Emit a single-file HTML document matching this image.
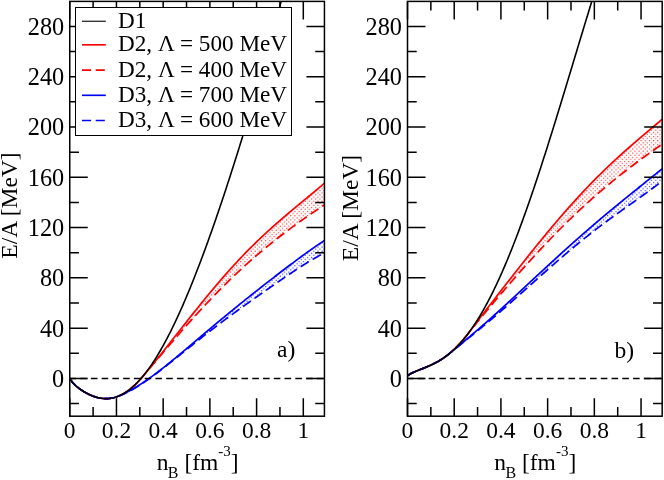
<!DOCTYPE html>
<html><head><meta charset="utf-8"><title>E/A vs nB</title>
<style>
html,body{margin:0;padding:0;background:#fff;}
body{width:664px;height:480px;overflow:hidden;font-family:"Liberation Serif",serif;}
svg{display:block;will-change:transform;}
text{font-family:"Liberation Serif",serif;fill:#000;}
.tk{font-size:24.3px;}
.tx{font-size:22.6px;}
.lb{font-size:23.5px;}
.lg{font-size:22.3px;}
</style></head><body>
<svg width="664" height="480" viewBox="0 0 664 480">
<defs><pattern id="dotr" width="4.17" height="4.17" patternUnits="userSpaceOnUse"><rect x="0.5" y="0.5" width="1.0" height="1.0" fill="#ff0000"/><rect x="2.585" y="2.585" width="1.0" height="1.0" fill="#ff0000"/></pattern><pattern id="dotb" width="4.17" height="4.17" patternUnits="userSpaceOnUse"><rect x="0.5" y="0.5" width="1.0" height="1.0" fill="#0000ff"/><rect x="2.585" y="2.585" width="1.0" height="1.0" fill="#0000ff"/></pattern></defs>
<rect width="664" height="480" fill="#fff"/>
<clipPath id="clip0"><rect x="69.75" y="1.40" width="254.69" height="414.80"/></clipPath>
<g clip-path="url(#clip0)" fill="none" stroke-width="1.7" stroke-linejoin="round">
<path d="M146.81,371.63 L147.49,370.80 L148.18,369.97 L148.86,369.14 L149.55,368.31 L150.23,367.48 L150.92,366.64 L151.60,365.80 L152.29,364.96 L152.98,364.12 L153.66,363.28 L154.35,362.44 L155.03,361.59 L155.72,360.74 L156.40,359.89 L157.09,359.04 L157.77,358.19 L158.46,357.34 L159.15,356.48 L159.83,355.63 L160.52,354.77 L161.20,353.91 L161.89,353.06 L162.57,352.20 L163.26,351.33 L163.95,350.47 L164.63,349.61 L165.32,348.75 L166.00,347.88 L166.69,347.02 L167.37,346.15 L168.06,345.28 L168.74,344.41 L169.43,343.55 L170.12,342.68 L170.80,341.81 L171.49,340.94 L172.17,340.07 L172.86,339.20 L173.54,338.33 L174.23,337.46 L174.92,336.58 L175.60,335.71 L176.29,334.84 L176.97,333.97 L177.66,333.10 L178.34,332.22 L179.03,331.35 L179.71,330.48 L180.40,329.61 L181.09,328.74 L181.77,327.87 L182.46,326.99 L183.14,326.12 L183.83,325.25 L184.51,324.38 L185.20,323.51 L185.89,322.64 L186.57,321.78 L187.26,320.91 L187.94,320.04 L188.63,319.17 L189.31,318.31 L190.00,317.44 L190.68,316.58 L191.37,315.71 L192.06,314.85 L192.74,313.99 L193.43,313.13 L194.11,312.27 L194.80,311.41 L195.48,310.55 L196.17,309.70 L196.86,308.84 L197.54,307.99 L198.23,307.13 L198.91,306.28 L199.60,305.43 L200.28,304.58 L200.97,303.73 L201.65,302.89 L202.34,302.04 L203.03,301.20 L203.71,300.36 L204.40,299.52 L205.08,298.68 L205.77,297.84 L206.45,297.01 L207.14,296.17 L207.83,295.34 L208.51,294.51 L209.20,293.68 L209.88,292.85 L210.57,292.03 L211.25,291.21 L211.94,290.39 L212.62,289.57 L213.31,288.75 L214.00,287.93 L214.68,287.12 L215.37,286.31 L216.05,285.50 L216.74,284.69 L217.42,283.89 L218.11,283.08 L218.80,282.28 L219.48,281.49 L220.17,280.69 L220.85,279.89 L221.54,279.10 L222.22,278.31 L222.91,277.53 L223.59,276.74 L224.28,275.96 L224.97,275.18 L225.65,274.40 L226.34,273.62 L227.02,272.85 L227.71,272.08 L228.39,271.31 L229.08,270.54 L229.77,269.78 L230.45,269.02 L231.14,268.26 L231.82,267.50 L232.51,266.75 L233.19,266.00 L233.88,265.25 L234.56,264.50 L235.25,263.76 L235.94,263.02 L236.62,262.28 L237.31,261.54 L237.99,260.81 L238.68,260.07 L239.36,259.35 L240.05,258.62 L240.74,257.90 L241.42,257.17 L242.11,256.46 L242.79,255.74 L243.48,255.03 L244.16,254.31 L244.85,253.61 L245.53,252.90 L246.22,252.20 L246.91,251.50 L247.59,250.80 L248.28,250.10 L248.96,249.41 L249.65,248.72 L250.33,248.03 L251.02,247.34 L251.71,246.66 L252.39,245.98 L253.08,245.30 L253.76,244.62 L254.45,243.95 L255.13,243.28 L255.82,242.61 L256.50,241.94 L257.19,241.28 L257.88,240.62 L258.56,239.96 L259.25,239.30 L259.93,238.65 L260.62,238.00 L261.30,237.35 L261.99,236.70 L262.68,236.05 L263.36,235.41 L264.05,234.77 L264.73,234.13 L265.42,233.50 L266.10,232.86 L266.79,232.23 L267.47,231.60 L268.16,230.97 L268.85,230.35 L269.53,229.72 L270.22,229.10 L270.90,228.48 L271.59,227.87 L272.27,227.25 L272.96,226.64 L273.65,226.02 L274.33,225.42 L275.02,224.81 L275.70,224.20 L276.39,223.60 L277.07,222.99 L277.76,222.39 L278.44,221.79 L279.13,221.20 L279.82,220.60 L280.50,220.01 L281.19,219.41 L281.87,218.82 L282.56,218.23 L283.24,217.64 L283.93,217.06 L284.62,216.47 L285.30,215.89 L285.99,215.30 L286.67,214.72 L287.36,214.14 L288.04,213.56 L288.73,212.98 L289.41,212.41 L290.10,211.83 L290.79,211.26 L291.47,210.68 L292.16,210.11 L292.84,209.54 L293.53,208.96 L294.21,208.39 L294.90,207.82 L295.59,207.25 L296.27,206.68 L296.96,206.12 L297.64,205.55 L298.33,204.98 L299.01,204.42 L299.70,203.85 L300.38,203.28 L301.07,202.72 L301.76,202.15 L302.44,201.59 L303.13,201.02 L303.81,200.46 L304.50,199.89 L305.18,199.33 L305.87,198.76 L306.56,198.20 L307.24,197.63 L307.93,197.07 L308.61,196.50 L309.30,195.93 L309.98,195.37 L310.67,194.80 L311.35,194.23 L312.04,193.66 L312.73,193.10 L313.41,192.53 L314.10,191.96 L314.78,191.38 L315.47,190.81 L316.15,190.24 L316.84,189.66 L317.53,189.09 L318.21,188.51 L318.90,187.94 L319.58,187.36 L320.27,186.78 L320.95,186.20 L321.64,185.61 L322.32,185.03 L323.01,184.44 L323.70,183.86 L324.38,183.27 L324.38,204.97 L323.70,205.41 L323.01,205.86 L322.32,206.30 L321.64,206.75 L320.95,207.20 L320.27,207.65 L319.58,208.11 L318.90,208.56 L318.21,209.01 L317.53,209.47 L316.84,209.93 L316.15,210.39 L315.47,210.84 L314.78,211.31 L314.10,211.77 L313.41,212.23 L312.73,212.70 L312.04,213.16 L311.35,213.63 L310.67,214.10 L309.98,214.57 L309.30,215.04 L308.61,215.51 L307.93,215.98 L307.24,216.46 L306.56,216.93 L305.87,217.41 L305.18,217.89 L304.50,218.37 L303.81,218.85 L303.13,219.33 L302.44,219.81 L301.76,220.30 L301.07,220.78 L300.38,221.27 L299.70,221.76 L299.01,222.25 L298.33,222.74 L297.64,223.23 L296.96,223.72 L296.27,224.22 L295.59,224.71 L294.90,225.21 L294.21,225.71 L293.53,226.21 L292.84,226.71 L292.16,227.22 L291.47,227.72 L290.79,228.23 L290.10,228.73 L289.41,229.24 L288.73,229.75 L288.04,230.26 L287.36,230.78 L286.67,231.29 L285.99,231.81 L285.30,232.33 L284.62,232.84 L283.93,233.36 L283.24,233.89 L282.56,234.41 L281.87,234.93 L281.19,235.46 L280.50,235.99 L279.82,236.52 L279.13,237.05 L278.44,237.58 L277.76,238.12 L277.07,238.65 L276.39,239.19 L275.70,239.73 L275.02,240.27 L274.33,240.81 L273.65,241.35 L272.96,241.90 L272.27,242.45 L271.59,243.00 L270.90,243.55 L270.22,244.10 L269.53,244.65 L268.85,245.21 L268.16,245.76 L267.47,246.32 L266.79,246.88 L266.10,247.45 L265.42,248.01 L264.73,248.58 L264.05,249.14 L263.36,249.71 L262.68,250.28 L261.99,250.86 L261.30,251.43 L260.62,252.01 L259.93,252.59 L259.25,253.17 L258.56,253.75 L257.88,254.33 L257.19,254.92 L256.50,255.51 L255.82,256.10 L255.13,256.69 L254.45,257.28 L253.76,257.88 L253.08,258.47 L252.39,259.07 L251.71,259.67 L251.02,260.27 L250.33,260.88 L249.65,261.49 L248.96,262.09 L248.28,262.70 L247.59,263.32 L246.91,263.93 L246.22,264.55 L245.53,265.17 L244.85,265.79 L244.16,266.41 L243.48,267.03 L242.79,267.66 L242.11,268.29 L241.42,268.92 L240.74,269.55 L240.05,270.18 L239.36,270.82 L238.68,271.45 L237.99,272.09 L237.31,272.74 L236.62,273.38 L235.94,274.03 L235.25,274.67 L234.56,275.32 L233.88,275.97 L233.19,276.63 L232.51,277.28 L231.82,277.94 L231.14,278.60 L230.45,279.26 L229.77,279.93 L229.08,280.59 L228.39,281.26 L227.71,281.93 L227.02,282.60 L226.34,283.27 L225.65,283.95 L224.97,284.63 L224.28,285.31 L223.59,285.99 L222.91,286.67 L222.22,287.36 L221.54,288.04 L220.85,288.73 L220.17,289.42 L219.48,290.12 L218.80,290.81 L218.11,291.51 L217.42,292.21 L216.74,292.91 L216.05,293.61 L215.37,294.31 L214.68,295.02 L214.00,295.73 L213.31,296.44 L212.62,297.15 L211.94,297.86 L211.25,298.58 L210.57,299.30 L209.88,300.02 L209.20,300.74 L208.51,301.46 L207.83,302.18 L207.14,302.91 L206.45,303.64 L205.77,304.37 L205.08,305.10 L204.40,305.83 L203.71,306.57 L203.03,307.30 L202.34,308.04 L201.65,308.78 L200.97,309.52 L200.28,310.26 L199.60,311.01 L198.91,311.76 L198.23,312.50 L197.54,313.25 L196.86,314.00 L196.17,314.76 L195.48,315.51 L194.80,316.27 L194.11,317.02 L193.43,317.78 L192.74,318.54 L192.06,319.30 L191.37,320.06 L190.68,320.83 L190.00,321.59 L189.31,322.36 L188.63,323.13 L187.94,323.90 L187.26,324.67 L186.57,325.44 L185.89,326.21 L185.20,326.99 L184.51,327.76 L183.83,328.54 L183.14,329.32 L182.46,330.10 L181.77,330.88 L181.09,331.66 L180.40,332.44 L179.71,333.23 L179.03,334.01 L178.34,334.80 L177.66,335.58 L176.97,336.37 L176.29,337.16 L175.60,337.95 L174.92,338.74 L174.23,339.53 L173.54,340.32 L172.86,341.11 L172.17,341.91 L171.49,342.70 L170.80,343.50 L170.12,344.30 L169.43,345.09 L168.74,345.89 L168.06,346.69 L167.37,347.49 L166.69,348.29 L166.00,349.09 L165.32,349.89 L164.63,350.69 L163.95,351.49 L163.26,352.30 L162.57,353.10 L161.89,353.90 L161.20,354.71 L160.52,355.51 L159.83,356.32 L159.15,357.12 L158.46,357.93 L157.77,358.74 L157.09,359.54 L156.40,360.35 L155.72,361.16 L155.03,361.96 L154.35,362.77 L153.66,363.58 L152.98,364.39 L152.29,365.20 L151.60,366.01 L150.92,366.82 L150.23,367.63 L149.55,368.44 L148.86,369.25 L148.18,370.06 L147.49,370.87 L146.81,371.68Z" fill="url(#dotr)" stroke="none"/>
<path d="M128.12,391.56 L128.88,391.16 L129.64,390.75 L130.40,390.34 L131.16,389.92 L131.91,389.50 L132.67,389.07 L133.43,388.63 L134.19,388.19 L134.94,387.74 L135.70,387.29 L136.46,386.83 L137.22,386.36 L137.98,385.90 L138.73,385.42 L139.49,384.94 L140.25,384.46 L141.01,383.97 L141.76,383.47 L142.52,382.97 L143.28,382.47 L144.04,381.96 L144.80,381.45 L145.55,380.93 L146.31,380.41 L147.07,379.88 L147.83,379.35 L148.58,378.82 L149.34,378.28 L150.10,377.74 L150.86,377.19 L151.62,376.64 L152.37,376.09 L153.13,375.54 L153.89,374.98 L154.65,374.41 L155.40,373.85 L156.16,373.28 L156.92,372.70 L157.68,372.13 L158.43,371.55 L159.19,370.97 L159.95,370.38 L160.71,369.79 L161.47,369.20 L162.22,368.61 L162.98,368.02 L163.74,367.42 L164.50,366.82 L165.25,366.22 L166.01,365.61 L166.77,365.01 L167.53,364.40 L168.29,363.79 L169.04,363.17 L169.80,362.56 L170.56,361.94 L171.32,361.33 L172.07,360.71 L172.83,360.09 L173.59,359.46 L174.35,358.84 L175.11,358.22 L175.86,357.59 L176.62,356.96 L177.38,356.33 L178.14,355.70 L178.89,355.07 L179.65,354.44 L180.41,353.81 L181.17,353.17 L181.93,352.54 L182.68,351.90 L183.44,351.26 L184.20,350.63 L184.96,349.99 L185.71,349.35 L186.47,348.71 L187.23,348.07 L187.99,347.43 L188.74,346.79 L189.50,346.15 L190.26,345.51 L191.02,344.87 L191.78,344.23 L192.53,343.59 L193.29,342.94 L194.05,342.30 L194.81,341.66 L195.56,341.02 L196.32,340.37 L197.08,339.73 L197.84,339.09 L198.60,338.45 L199.35,337.81 L200.11,337.16 L200.87,336.52 L201.63,335.88 L202.38,335.24 L203.14,334.60 L203.90,333.96 L204.66,333.32 L205.42,332.68 L206.17,332.04 L206.93,331.40 L207.69,330.76 L208.45,330.12 L209.20,329.48 L209.96,328.85 L210.72,328.21 L211.48,327.57 L212.24,326.94 L212.99,326.30 L213.75,325.67 L214.51,325.03 L215.27,324.40 L216.02,323.76 L216.78,323.13 L217.54,322.50 L218.30,321.87 L219.05,321.24 L219.81,320.61 L220.57,319.98 L221.33,319.35 L222.09,318.72 L222.84,318.09 L223.60,317.47 L224.36,316.84 L225.12,316.21 L225.87,315.59 L226.63,314.96 L227.39,314.34 L228.15,313.72 L228.91,313.10 L229.66,312.47 L230.42,311.85 L231.18,311.23 L231.94,310.61 L232.69,310.00 L233.45,309.38 L234.21,308.76 L234.97,308.14 L235.73,307.53 L236.48,306.91 L237.24,306.30 L238.00,305.69 L238.76,305.07 L239.51,304.46 L240.27,303.85 L241.03,303.24 L241.79,302.63 L242.54,302.02 L243.30,301.41 L244.06,300.80 L244.82,300.19 L245.58,299.59 L246.33,298.98 L247.09,298.37 L247.85,297.77 L248.61,297.16 L249.36,296.56 L250.12,295.96 L250.88,295.35 L251.64,294.75 L252.40,294.15 L253.15,293.55 L253.91,292.95 L254.67,292.35 L255.43,291.75 L256.18,291.15 L256.94,290.56 L257.70,289.96 L258.46,289.36 L259.22,288.77 L259.97,288.17 L260.73,287.57 L261.49,286.98 L262.25,286.39 L263.00,285.79 L263.76,285.20 L264.52,284.61 L265.28,284.02 L266.04,283.42 L266.79,282.83 L267.55,282.24 L268.31,281.65 L269.07,281.06 L269.82,280.48 L270.58,279.89 L271.34,279.30 L272.10,278.71 L272.85,278.13 L273.61,277.54 L274.37,276.96 L275.13,276.37 L275.89,275.79 L276.64,275.20 L277.40,274.62 L278.16,274.04 L278.92,273.45 L279.67,272.87 L280.43,272.29 L281.19,271.71 L281.95,271.13 L282.71,270.55 L283.46,269.98 L284.22,269.40 L284.98,268.82 L285.74,268.25 L286.49,267.67 L287.25,267.10 L288.01,266.52 L288.77,265.95 L289.53,265.38 L290.28,264.80 L291.04,264.23 L291.80,263.66 L292.56,263.10 L293.31,262.53 L294.07,261.96 L294.83,261.39 L295.59,260.83 L296.35,260.27 L297.10,259.70 L297.86,259.14 L298.62,258.58 L299.38,258.02 L300.13,257.46 L300.89,256.91 L301.65,256.35 L302.41,255.80 L303.16,255.24 L303.92,254.69 L304.68,254.14 L305.44,253.59 L306.20,253.05 L306.95,252.50 L307.71,251.96 L308.47,251.42 L309.23,250.88 L309.98,250.34 L310.74,249.80 L311.50,249.27 L312.26,248.74 L313.02,248.21 L313.77,247.68 L314.53,247.16 L315.29,246.63 L316.05,246.11 L316.80,245.60 L317.56,245.08 L318.32,244.57 L319.08,244.06 L319.84,243.55 L320.59,243.05 L321.35,242.55 L322.11,242.05 L322.87,241.55 L323.62,241.06 L324.38,240.57 L324.38,253.09 L323.62,253.46 L322.87,253.84 L322.11,254.22 L321.35,254.61 L320.59,255.00 L319.84,255.40 L319.08,255.80 L318.32,256.21 L317.56,256.63 L316.80,257.04 L316.05,257.46 L315.29,257.89 L314.53,258.32 L313.77,258.76 L313.02,259.19 L312.26,259.64 L311.50,260.08 L310.74,260.53 L309.98,260.99 L309.23,261.44 L308.47,261.90 L307.71,262.36 L306.95,262.83 L306.20,263.30 L305.44,263.77 L304.68,264.24 L303.92,264.72 L303.16,265.19 L302.41,265.68 L301.65,266.16 L300.89,266.64 L300.13,267.13 L299.38,267.62 L298.62,268.11 L297.86,268.60 L297.10,269.10 L296.35,269.60 L295.59,270.09 L294.83,270.59 L294.07,271.10 L293.31,271.60 L292.56,272.10 L291.80,272.61 L291.04,273.12 L290.28,273.62 L289.53,274.13 L288.77,274.64 L288.01,275.15 L287.25,275.67 L286.49,276.18 L285.74,276.69 L284.98,277.21 L284.22,277.72 L283.46,278.24 L282.71,278.76 L281.95,279.28 L281.19,279.80 L280.43,280.32 L279.67,280.84 L278.92,281.36 L278.16,281.88 L277.40,282.40 L276.64,282.92 L275.89,283.45 L275.13,283.97 L274.37,284.50 L273.61,285.02 L272.85,285.55 L272.10,286.07 L271.34,286.60 L270.58,287.13 L269.82,287.65 L269.07,288.18 L268.31,288.71 L267.55,289.24 L266.79,289.76 L266.04,290.29 L265.28,290.82 L264.52,291.35 L263.76,291.88 L263.00,292.41 L262.25,292.95 L261.49,293.48 L260.73,294.01 L259.97,294.54 L259.22,295.07 L258.46,295.61 L257.70,296.14 L256.94,296.68 L256.18,297.21 L255.43,297.74 L254.67,298.28 L253.91,298.82 L253.15,299.35 L252.40,299.89 L251.64,300.43 L250.88,300.96 L250.12,301.50 L249.36,302.04 L248.61,302.58 L247.85,303.12 L247.09,303.66 L246.33,304.20 L245.58,304.74 L244.82,305.29 L244.06,305.83 L243.30,306.37 L242.54,306.92 L241.79,307.46 L241.03,308.01 L240.27,308.55 L239.51,309.10 L238.76,309.65 L238.00,310.20 L237.24,310.75 L236.48,311.30 L235.73,311.85 L234.97,312.40 L234.21,312.95 L233.45,313.50 L232.69,314.06 L231.94,314.61 L231.18,315.17 L230.42,315.72 L229.66,316.28 L228.91,316.84 L228.15,317.40 L227.39,317.96 L226.63,318.52 L225.87,319.08 L225.12,319.65 L224.36,320.21 L223.60,320.78 L222.84,321.34 L222.09,321.91 L221.33,322.48 L220.57,323.05 L219.81,323.62 L219.05,324.19 L218.30,324.76 L217.54,325.33 L216.78,325.91 L216.02,326.48 L215.27,327.06 L214.51,327.64 L213.75,328.22 L212.99,328.79 L212.24,329.38 L211.48,329.96 L210.72,330.54 L209.96,331.12 L209.20,331.71 L208.45,332.29 L207.69,332.88 L206.93,333.47 L206.17,334.06 L205.42,334.65 L204.66,335.24 L203.90,335.83 L203.14,336.42 L202.38,337.02 L201.63,337.61 L200.87,338.21 L200.11,338.80 L199.35,339.40 L198.60,340.00 L197.84,340.60 L197.08,341.20 L196.32,341.80 L195.56,342.40 L194.81,343.00 L194.05,343.61 L193.29,344.21 L192.53,344.81 L191.78,345.42 L191.02,346.02 L190.26,346.63 L189.50,347.24 L188.74,347.84 L187.99,348.45 L187.23,349.06 L186.47,349.67 L185.71,350.27 L184.96,350.88 L184.20,351.49 L183.44,352.10 L182.68,352.71 L181.93,353.32 L181.17,353.93 L180.41,354.54 L179.65,355.15 L178.89,355.76 L178.14,356.37 L177.38,356.97 L176.62,357.58 L175.86,358.19 L175.11,358.80 L174.35,359.41 L173.59,360.01 L172.83,360.62 L172.07,361.22 L171.32,361.83 L170.56,362.43 L169.80,363.03 L169.04,363.63 L168.29,364.23 L167.53,364.83 L166.77,365.43 L166.01,366.03 L165.25,366.62 L164.50,367.22 L163.74,367.81 L162.98,368.40 L162.22,368.99 L161.47,369.57 L160.71,370.16 L159.95,370.74 L159.19,371.32 L158.43,371.90 L157.68,372.47 L156.92,373.05 L156.16,373.62 L155.40,374.19 L154.65,374.75 L153.89,375.31 L153.13,375.87 L152.37,376.43 L151.62,376.98 L150.86,377.53 L150.10,378.08 L149.34,378.62 L148.58,379.16 L147.83,379.69 L147.07,380.22 L146.31,380.75 L145.55,381.27 L144.80,381.79 L144.04,382.31 L143.28,382.81 L142.52,383.32 L141.76,383.82 L141.01,384.31 L140.25,384.80 L139.49,385.29 L138.73,385.77 L137.98,386.24 L137.22,386.71 L136.46,387.17 L135.70,387.63 L134.94,388.08 L134.19,388.53 L133.43,388.97 L132.67,389.40 L131.91,389.82 L131.16,390.24 L130.40,390.65 L129.64,391.06 L128.88,391.46 L128.12,391.85Z" fill="url(#dotb)" stroke="none"/>
<path d="M69.75,378.10 L70.73,379.96 L71.72,381.38 L72.70,382.59 L73.68,383.68 L74.67,384.67 L75.65,385.58 L76.63,386.44 L77.62,387.25 L78.60,388.03 L79.58,388.76 L80.56,389.47 L81.55,390.14 L82.53,390.79 L83.51,391.41 L84.50,392.00 L85.48,392.57 L86.46,393.12 L87.45,393.64 L88.43,394.14 L89.41,394.61 L90.40,395.06 L91.38,395.48 L92.36,395.88 L93.35,396.25 L94.33,396.59 L95.31,396.91 L96.29,397.21 L97.28,397.47 L98.26,397.71 L99.24,397.92 L100.23,398.11 L101.21,398.26 L102.19,398.39 L103.18,398.49 L104.16,398.56 L105.14,398.60 L106.13,398.61 L107.11,398.59 L108.09,398.53 L109.08,398.45 L110.06,398.34 L111.04,398.20 L112.02,398.02 L113.01,397.82 L113.99,397.58 L114.97,397.31 L115.96,397.01 L116.94,396.68 L117.92,396.31 L118.91,395.91 L119.89,395.49 L120.87,395.02 L121.86,394.53 L122.84,394.01 L123.82,393.45 L124.81,392.86 L125.79,392.24 L126.77,391.58 L127.75,390.89 L128.74,390.17 L129.72,389.42 L130.70,388.64 L131.69,387.82 L132.67,386.98 L133.65,386.10 L134.64,385.19 L135.62,384.24 L136.60,383.27 L137.59,382.27 L138.57,381.23 L139.55,380.16 L140.54,379.06 L141.52,377.93 L142.50,376.77 L143.49,375.61 L144.47,374.43 L145.45,373.26 L146.43,372.08 L147.42,370.89 L148.40,369.70 L149.38,368.51 L150.37,367.31 L151.35,366.11 L152.33,364.91 L153.32,363.70 L154.30,362.49 L155.28,361.28 L156.27,360.06 L157.25,358.85 L158.23,357.62 L159.22,356.40 L160.20,355.17 L161.18,353.94 L162.16,352.71 L163.15,351.48 L164.13,350.24 L165.11,349.00 L166.10,347.76 L167.08,346.52 L168.06,345.28 L169.05,344.03 L170.03,342.79 L171.01,341.54 L172.00,340.29 L172.98,339.04 L173.96,337.80 L174.95,336.55 L175.93,335.30 L176.91,334.05 L177.89,332.80 L178.88,331.54 L179.86,330.29 L180.84,329.04 L181.83,327.80 L182.81,326.55 L183.79,325.30 L184.78,324.05 L185.76,322.80 L186.74,321.56 L187.73,320.31 L188.71,319.07 L189.69,317.83 L190.68,316.59 L191.66,315.35 L192.64,314.12 L193.62,312.88 L194.61,311.65 L195.59,310.42 L196.57,309.19 L197.56,307.97 L198.54,306.74 L199.52,305.52 L200.51,304.31 L201.49,303.09 L202.47,301.88 L203.46,300.67 L204.44,299.47 L205.42,298.26 L206.41,297.06 L207.39,295.87 L208.37,294.68 L209.36,293.49 L210.34,292.31 L211.32,291.13 L212.30,289.95 L213.29,288.78 L214.27,287.61 L215.25,286.44 L216.24,285.28 L217.22,284.13 L218.20,282.98 L219.19,281.83 L220.17,280.69 L221.15,279.55 L222.14,278.41 L223.12,277.29 L224.10,276.16 L225.09,275.04 L226.07,273.93 L227.05,272.82 L228.03,271.71 L229.02,270.61 L230.00,269.52 L230.98,268.43 L231.97,267.34 L232.95,266.26 L233.93,265.19 L234.92,264.12 L235.90,263.06 L236.88,262.00 L237.87,260.94 L238.85,259.89 L239.83,258.85 L240.82,257.81 L241.80,256.78 L242.78,255.75 L243.76,254.73 L244.75,253.71 L245.73,252.70 L246.71,251.69 L247.70,250.69 L248.68,249.69 L249.66,248.70 L250.65,247.72 L251.63,246.73 L252.61,245.76 L253.60,244.79 L254.58,243.82 L255.56,242.86 L256.55,241.90 L257.53,240.95 L258.51,240.01 L259.49,239.07 L260.48,238.13 L261.46,237.20 L262.44,236.27 L263.43,235.35 L264.41,234.43 L265.39,233.52 L266.38,232.61 L267.36,231.71 L268.34,230.81 L269.33,229.91 L270.31,229.02 L271.29,228.13 L272.28,227.25 L273.26,226.37 L274.24,225.49 L275.23,224.62 L276.21,223.75 L277.19,222.89 L278.17,222.03 L279.16,221.17 L280.14,220.32 L281.12,219.47 L282.11,218.62 L283.09,217.78 L284.07,216.93 L285.06,216.09 L286.04,215.26 L287.02,214.42 L288.01,213.59 L288.99,212.76 L289.97,211.94 L290.96,211.11 L291.94,210.29 L292.92,209.47 L293.90,208.65 L294.89,207.83 L295.87,207.02 L296.85,206.20 L297.84,205.39 L298.82,204.58 L299.80,203.76 L300.79,202.95 L301.77,202.14 L302.75,201.33 L303.74,200.52 L304.72,199.71 L305.70,198.90 L306.69,198.09 L307.67,197.28 L308.65,196.47 L309.63,195.66 L310.62,194.84 L311.60,194.03 L312.58,193.21 L313.57,192.40 L314.55,191.58 L315.53,190.76 L316.52,189.94 L317.50,189.11 L318.48,188.28 L319.47,187.46 L320.45,186.62 L321.43,185.79 L322.42,184.95 L323.40,184.11 L324.38,183.27" stroke="#ff0000"/>
<path d="M69.75,378.10 L70.73,379.96 L71.72,381.38 L72.70,382.59 L73.68,383.68 L74.67,384.67 L75.65,385.58 L76.63,386.44 L77.62,387.25 L78.60,388.03 L79.58,388.76 L80.56,389.47 L81.55,390.14 L82.53,390.79 L83.51,391.41 L84.50,392.00 L85.48,392.57 L86.46,393.12 L87.45,393.64 L88.43,394.14 L89.41,394.61 L90.40,395.06 L91.38,395.48 L92.36,395.88 L93.35,396.25 L94.33,396.59 L95.31,396.91 L96.29,397.21 L97.28,397.47 L98.26,397.71 L99.24,397.92 L100.23,398.11 L101.21,398.26 L102.19,398.39 L103.18,398.49 L104.16,398.56 L105.14,398.60 L106.13,398.61 L107.11,398.59 L108.09,398.53 L109.08,398.45 L110.06,398.34 L111.04,398.20 L112.02,398.02 L113.01,397.82 L113.99,397.58 L114.97,397.31 L115.96,397.01 L116.94,396.68 L117.92,396.31 L118.91,395.91 L119.89,395.49 L120.87,395.02 L121.86,394.53 L122.84,394.01 L123.82,393.45 L124.81,392.86 L125.79,392.24 L126.77,391.58 L127.75,390.89 L128.74,390.17 L129.72,389.42 L130.70,388.64 L131.69,387.82 L132.67,386.98 L133.65,386.10 L134.64,385.19 L135.62,384.24 L136.60,383.27 L137.59,382.27 L138.57,381.23 L139.55,380.16 L140.54,379.06 L141.52,377.93 L142.50,376.77 L143.49,375.61 L144.47,374.45 L145.45,373.28 L146.43,372.12 L147.42,370.96 L148.40,369.79 L149.38,368.63 L150.37,367.47 L151.35,366.31 L152.33,365.15 L153.32,363.99 L154.30,362.83 L155.28,361.67 L156.27,360.51 L157.25,359.35 L158.23,358.20 L159.22,357.04 L160.20,355.89 L161.18,354.73 L162.16,353.58 L163.15,352.43 L164.13,351.28 L165.11,350.13 L166.10,348.98 L167.08,347.83 L168.06,346.68 L169.05,345.54 L170.03,344.40 L171.01,343.25 L172.00,342.11 L172.98,340.98 L173.96,339.84 L174.95,338.70 L175.93,337.57 L176.91,336.44 L177.89,335.31 L178.88,334.18 L179.86,333.06 L180.84,331.94 L181.83,330.81 L182.81,329.70 L183.79,328.58 L184.78,327.47 L185.76,326.36 L186.74,325.25 L187.73,324.14 L188.71,323.04 L189.69,321.94 L190.68,320.84 L191.66,319.74 L192.64,318.65 L193.62,317.56 L194.61,316.48 L195.59,315.39 L196.57,314.31 L197.56,313.23 L198.54,312.16 L199.52,311.09 L200.51,310.02 L201.49,308.96 L202.47,307.90 L203.46,306.84 L204.44,305.79 L205.42,304.74 L206.41,303.69 L207.39,302.65 L208.37,301.61 L209.36,300.57 L210.34,299.54 L211.32,298.51 L212.30,297.48 L213.29,296.46 L214.27,295.45 L215.25,294.43 L216.24,293.42 L217.22,292.42 L218.20,291.41 L219.19,290.42 L220.17,289.42 L221.15,288.43 L222.14,287.44 L223.12,286.46 L224.10,285.48 L225.09,284.51 L226.07,283.54 L227.05,282.57 L228.03,281.61 L229.02,280.65 L230.00,279.70 L230.98,278.75 L231.97,277.80 L232.95,276.86 L233.93,275.92 L234.92,274.99 L235.90,274.06 L236.88,273.13 L237.87,272.21 L238.85,271.30 L239.83,270.38 L240.82,269.47 L241.80,268.57 L242.78,267.67 L243.76,266.77 L244.75,265.88 L245.73,264.99 L246.71,264.10 L247.70,263.22 L248.68,262.35 L249.66,261.47 L250.65,260.60 L251.63,259.74 L252.61,258.88 L253.60,258.02 L254.58,257.17 L255.56,256.32 L256.55,255.47 L257.53,254.63 L258.51,253.79 L259.49,252.96 L260.48,252.13 L261.46,251.30 L262.44,250.48 L263.43,249.66 L264.41,248.84 L265.39,248.03 L266.38,247.22 L267.36,246.42 L268.34,245.62 L269.33,244.82 L270.31,244.02 L271.29,243.23 L272.28,242.45 L273.26,241.66 L274.24,240.88 L275.23,240.10 L276.21,239.33 L277.19,238.56 L278.17,237.79 L279.16,237.03 L280.14,236.27 L281.12,235.51 L282.11,234.75 L283.09,234.00 L284.07,233.26 L285.06,232.51 L286.04,231.77 L287.02,231.03 L288.01,230.29 L288.99,229.56 L289.97,228.83 L290.96,228.10 L291.94,227.38 L292.92,226.66 L293.90,225.94 L294.89,225.22 L295.87,224.51 L296.85,223.80 L297.84,223.09 L298.82,222.39 L299.80,221.68 L300.79,220.98 L301.77,220.29 L302.75,219.59 L303.74,218.90 L304.72,218.21 L305.70,217.53 L306.69,216.84 L307.67,216.16 L308.65,215.48 L309.63,214.81 L310.62,214.13 L311.60,213.46 L312.58,212.79 L313.57,212.13 L314.55,211.46 L315.53,210.80 L316.52,210.14 L317.50,209.49 L318.48,208.83 L319.47,208.18 L320.45,207.53 L321.43,206.89 L322.42,206.24 L323.40,205.60 L324.38,204.97" stroke="#ff0000" stroke-dasharray="9.5 4.5"/>
<path d="M69.75,378.10 L70.73,379.96 L71.72,381.38 L72.70,382.59 L73.68,383.68 L74.67,384.67 L75.65,385.58 L76.63,386.44 L77.62,387.25 L78.60,388.03 L79.58,388.76 L80.56,389.47 L81.55,390.14 L82.53,390.79 L83.51,391.41 L84.50,392.00 L85.48,392.57 L86.46,393.12 L87.45,393.64 L88.43,394.14 L89.41,394.61 L90.40,395.06 L91.38,395.48 L92.36,395.88 L93.35,396.25 L94.33,396.59 L95.31,396.91 L96.29,397.21 L97.28,397.47 L98.26,397.71 L99.24,397.92 L100.23,398.11 L101.21,398.26 L102.19,398.39 L103.18,398.49 L104.16,398.56 L105.14,398.60 L106.13,398.61 L107.11,398.59 L108.09,398.53 L109.08,398.45 L110.06,398.34 L111.04,398.20 L112.02,398.02 L113.01,397.82 L113.99,397.58 L114.97,397.31 L115.96,397.01 L116.94,396.68 L117.92,396.31 L118.91,395.91 L119.89,395.50 L120.87,395.07 L121.86,394.63 L122.84,394.18 L123.82,393.72 L124.81,393.24 L125.79,392.76 L126.77,392.26 L127.75,391.76 L128.74,391.24 L129.72,390.71 L130.70,390.17 L131.69,389.63 L132.67,389.07 L133.65,388.50 L134.64,387.92 L135.62,387.34 L136.60,386.74 L137.59,386.14 L138.57,385.52 L139.55,384.90 L140.54,384.27 L141.52,383.63 L142.50,382.99 L143.49,382.33 L144.47,381.67 L145.45,381.00 L146.43,380.32 L147.42,379.64 L148.40,378.95 L149.38,378.25 L150.37,377.55 L151.35,376.84 L152.33,376.12 L153.32,375.40 L154.30,374.67 L155.28,373.94 L156.27,373.20 L157.25,372.45 L158.23,371.70 L159.22,370.95 L160.20,370.19 L161.18,369.43 L162.16,368.66 L163.15,367.89 L164.13,367.11 L165.11,366.33 L166.10,365.54 L167.08,364.76 L168.06,363.97 L169.05,363.17 L170.03,362.38 L171.01,361.57 L172.00,360.77 L172.98,359.97 L173.96,359.16 L174.95,358.35 L175.93,357.53 L176.91,356.72 L177.89,355.90 L178.88,355.08 L179.86,354.26 L180.84,353.44 L181.83,352.62 L182.81,351.79 L183.79,350.97 L184.78,350.14 L185.76,349.31 L186.74,348.48 L187.73,347.65 L188.71,346.82 L189.69,345.99 L190.68,345.16 L191.66,344.33 L192.64,343.49 L193.62,342.66 L194.61,341.83 L195.59,340.99 L196.57,340.16 L197.56,339.33 L198.54,338.49 L199.52,337.66 L200.51,336.83 L201.49,336.00 L202.47,335.16 L203.46,334.33 L204.44,333.50 L205.42,332.67 L206.41,331.84 L207.39,331.01 L208.37,330.18 L209.36,329.36 L210.34,328.53 L211.32,327.70 L212.30,326.88 L213.29,326.05 L214.27,325.23 L215.25,324.41 L216.24,323.59 L217.22,322.77 L218.20,321.95 L219.19,321.13 L220.17,320.31 L221.15,319.49 L222.14,318.68 L223.12,317.86 L224.10,317.05 L225.09,316.24 L226.07,315.43 L227.05,314.62 L228.03,313.81 L229.02,313.00 L230.00,312.20 L230.98,311.39 L231.97,310.59 L232.95,309.79 L233.93,308.99 L234.92,308.19 L235.90,307.39 L236.88,306.59 L237.87,305.79 L238.85,305.00 L239.83,304.20 L240.82,303.41 L241.80,302.62 L242.78,301.83 L243.76,301.04 L244.75,300.25 L245.73,299.46 L246.71,298.68 L247.70,297.89 L248.68,297.11 L249.66,296.32 L250.65,295.54 L251.63,294.76 L252.61,293.98 L253.60,293.20 L254.58,292.42 L255.56,291.64 L256.55,290.87 L257.53,290.09 L258.51,289.32 L259.49,288.55 L260.48,287.77 L261.46,287.00 L262.44,286.23 L263.43,285.46 L264.41,284.69 L265.39,283.92 L266.38,283.16 L267.36,282.39 L268.34,281.63 L269.33,280.86 L270.31,280.10 L271.29,279.34 L272.28,278.57 L273.26,277.81 L274.24,277.05 L275.23,276.30 L276.21,275.54 L277.19,274.78 L278.17,274.02 L279.16,273.27 L280.14,272.52 L281.12,271.76 L282.11,271.01 L283.09,270.26 L284.07,269.51 L285.06,268.76 L286.04,268.02 L287.02,267.27 L288.01,266.52 L288.99,265.78 L289.97,265.04 L290.96,264.30 L291.94,263.56 L292.92,262.82 L293.90,262.09 L294.89,261.35 L295.87,260.62 L296.85,259.89 L297.84,259.16 L298.82,258.43 L299.80,257.71 L300.79,256.98 L301.77,256.26 L302.75,255.54 L303.74,254.83 L304.72,254.11 L305.70,253.40 L306.69,252.70 L307.67,251.99 L308.65,251.29 L309.63,250.59 L310.62,249.89 L311.60,249.20 L312.58,248.51 L313.57,247.83 L314.55,247.14 L315.53,246.47 L316.52,245.79 L317.50,245.12 L318.48,244.46 L319.47,243.80 L320.45,243.14 L321.43,242.49 L322.42,241.85 L323.40,241.21 L324.38,240.57" stroke="#0000ff"/>
<path d="M69.75,378.10 L70.73,379.96 L71.72,381.38 L72.70,382.59 L73.68,383.68 L74.67,384.67 L75.65,385.58 L76.63,386.44 L77.62,387.25 L78.60,388.03 L79.58,388.76 L80.56,389.47 L81.55,390.14 L82.53,390.79 L83.51,391.41 L84.50,392.00 L85.48,392.57 L86.46,393.12 L87.45,393.64 L88.43,394.14 L89.41,394.61 L90.40,395.06 L91.38,395.48 L92.36,395.88 L93.35,396.25 L94.33,396.59 L95.31,396.91 L96.29,397.21 L97.28,397.47 L98.26,397.71 L99.24,397.92 L100.23,398.11 L101.21,398.26 L102.19,398.39 L103.18,398.49 L104.16,398.56 L105.14,398.60 L106.13,398.61 L107.11,398.59 L108.09,398.53 L109.08,398.45 L110.06,398.34 L111.04,398.20 L112.02,398.02 L113.01,397.82 L113.99,397.58 L114.97,397.31 L115.96,397.01 L116.94,396.68 L117.92,396.33 L118.91,395.97 L119.89,395.59 L120.87,395.19 L121.86,394.78 L122.84,394.36 L123.82,393.92 L124.81,393.47 L125.79,393.00 L126.77,392.53 L127.75,392.03 L128.74,391.53 L129.72,391.02 L130.70,390.49 L131.69,389.95 L132.67,389.40 L133.65,388.84 L134.64,388.26 L135.62,387.68 L136.60,387.09 L137.59,386.48 L138.57,385.87 L139.55,385.25 L140.54,384.62 L141.52,383.98 L142.50,383.33 L143.49,382.68 L144.47,382.01 L145.45,381.34 L146.43,380.66 L147.42,379.98 L148.40,379.29 L149.38,378.59 L150.37,377.88 L151.35,377.17 L152.33,376.46 L153.32,375.73 L154.30,375.01 L155.28,374.28 L156.27,373.54 L157.25,372.80 L158.23,372.05 L159.22,371.30 L160.20,370.55 L161.18,369.79 L162.16,369.03 L163.15,368.27 L164.13,367.50 L165.11,366.73 L166.10,365.96 L167.08,365.19 L168.06,364.41 L169.05,363.63 L170.03,362.85 L171.01,362.07 L172.00,361.28 L172.98,360.50 L173.96,359.71 L174.95,358.93 L175.93,358.14 L176.91,357.35 L177.89,356.56 L178.88,355.77 L179.86,354.98 L180.84,354.19 L181.83,353.40 L182.81,352.61 L183.79,351.82 L184.78,351.03 L185.76,350.24 L186.74,349.45 L187.73,348.66 L188.71,347.87 L189.69,347.08 L190.68,346.30 L191.66,345.51 L192.64,344.73 L193.62,343.94 L194.61,343.16 L195.59,342.38 L196.57,341.60 L197.56,340.82 L198.54,340.04 L199.52,339.27 L200.51,338.49 L201.49,337.72 L202.47,336.95 L203.46,336.18 L204.44,335.41 L205.42,334.64 L206.41,333.88 L207.39,333.11 L208.37,332.35 L209.36,331.59 L210.34,330.83 L211.32,330.08 L212.30,329.32 L213.29,328.57 L214.27,327.82 L215.25,327.07 L216.24,326.32 L217.22,325.57 L218.20,324.83 L219.19,324.09 L220.17,323.35 L221.15,322.61 L222.14,321.87 L223.12,321.14 L224.10,320.40 L225.09,319.67 L226.07,318.94 L227.05,318.21 L228.03,317.48 L229.02,316.76 L230.00,316.03 L230.98,315.31 L231.97,314.59 L232.95,313.87 L233.93,313.15 L234.92,312.43 L235.90,311.72 L236.88,311.00 L237.87,310.29 L238.85,309.58 L239.83,308.87 L240.82,308.16 L241.80,307.45 L242.78,306.75 L243.76,306.04 L244.75,305.34 L245.73,304.63 L246.71,303.93 L247.70,303.23 L248.68,302.53 L249.66,301.83 L250.65,301.13 L251.63,300.43 L252.61,299.73 L253.60,299.04 L254.58,298.34 L255.56,297.65 L256.55,296.95 L257.53,296.26 L258.51,295.57 L259.49,294.88 L260.48,294.19 L261.46,293.50 L262.44,292.81 L263.43,292.12 L264.41,291.43 L265.39,290.74 L266.38,290.06 L267.36,289.37 L268.34,288.68 L269.33,288.00 L270.31,287.31 L271.29,286.63 L272.28,285.95 L273.26,285.27 L274.24,284.59 L275.23,283.90 L276.21,283.23 L277.19,282.55 L278.17,281.87 L279.16,281.19 L280.14,280.52 L281.12,279.84 L282.11,279.17 L283.09,278.50 L284.07,277.83 L285.06,277.16 L286.04,276.49 L287.02,275.82 L288.01,275.16 L288.99,274.49 L289.97,273.83 L290.96,273.17 L291.94,272.52 L292.92,271.86 L293.90,271.21 L294.89,270.56 L295.87,269.91 L296.85,269.26 L297.84,268.62 L298.82,267.98 L299.80,267.34 L300.79,266.71 L301.77,266.08 L302.75,265.46 L303.74,264.83 L304.72,264.22 L305.70,263.60 L306.69,262.99 L307.67,262.39 L308.65,261.79 L309.63,261.20 L310.62,260.61 L311.60,260.02 L312.58,259.45 L313.57,258.88 L314.55,258.31 L315.53,257.75 L316.52,257.20 L317.50,256.66 L318.48,256.12 L319.47,255.60 L320.45,255.08 L321.43,254.57 L322.42,254.07 L323.40,253.57 L324.38,253.09" stroke="#0000ff" stroke-dasharray="9.5 4.5"/>
<path d="M69.75,378.10 L70.62,379.79 L71.50,381.09 L72.37,382.21 L73.25,383.21 L74.12,384.13 L75.00,384.98 L75.87,385.78 L76.75,386.54 L77.62,387.26 L78.49,387.95 L79.37,388.61 L80.24,389.24 L81.12,389.85 L81.99,390.44 L82.87,391.00 L83.74,391.55 L84.62,392.07 L85.49,392.58 L86.37,393.07 L87.24,393.53 L88.11,393.98 L88.99,394.41 L89.86,394.82 L90.74,395.21 L91.61,395.58 L92.49,395.92 L93.36,396.25 L94.24,396.56 L95.11,396.85 L95.98,397.12 L96.86,397.36 L97.73,397.59 L98.61,397.79 L99.48,397.97 L100.36,398.13 L101.23,398.27 L102.11,398.38 L102.98,398.47 L103.86,398.54 L104.73,398.58 L105.60,398.60 L106.48,398.60 L107.35,398.58 L108.23,398.52 L109.10,398.45 L109.98,398.35 L110.85,398.23 L111.73,398.08 L112.60,397.91 L113.47,397.71 L114.35,397.48 L115.22,397.24 L116.10,396.96 L116.97,396.66 L117.85,396.34 L118.72,395.99 L119.60,395.62 L120.47,395.22 L121.35,394.79 L122.22,394.34 L123.09,393.86 L123.97,393.36 L124.84,392.83 L125.72,392.28 L126.59,391.70 L127.47,391.10 L128.34,390.47 L129.22,389.81 L130.09,389.13 L130.96,388.43 L131.84,387.70 L132.71,386.94 L133.59,386.16 L134.46,385.35 L135.34,384.52 L136.21,383.66 L137.09,382.78 L137.96,381.87 L138.84,380.94 L139.71,379.99 L140.58,379.01 L141.46,378.00 L142.33,376.97 L143.21,375.92 L144.08,374.84 L144.96,373.74 L145.83,372.62 L146.71,371.47 L147.58,370.29 L148.45,369.10 L149.33,367.88 L150.20,366.64 L151.08,365.37 L151.95,364.08 L152.83,362.77 L153.70,361.44 L154.58,360.08 L155.45,358.71 L156.33,357.31 L157.20,355.88 L158.07,354.44 L158.95,352.97 L159.82,351.49 L160.70,349.98 L161.57,348.45 L162.45,346.90 L163.32,345.33 L164.20,343.73 L165.07,342.12 L165.94,340.49 L166.82,338.83 L167.69,337.16 L168.57,335.47 L169.44,333.75 L170.32,332.02 L171.19,330.27 L172.07,328.50 L172.94,326.71 L173.82,324.90 L174.69,323.07 L175.56,321.23 L176.44,319.36 L177.31,317.48 L178.19,315.58 L179.06,313.66 L179.94,311.73 L180.81,309.77 L181.69,307.80 L182.56,305.82 L183.43,303.81 L184.31,301.79 L185.18,299.75 L186.06,297.70 L186.93,295.63 L187.81,293.54 L188.68,291.44 L189.56,289.32 L190.43,287.18 L191.31,285.03 L192.18,282.87 L193.05,280.69 L193.93,278.49 L194.80,276.28 L195.68,274.06 L196.55,271.82 L197.43,269.57 L198.30,267.30 L199.18,265.02 L200.05,262.72 L200.92,260.41 L201.80,258.09 L202.67,255.75 L203.55,253.40 L204.42,251.03 L205.30,248.66 L206.17,246.27 L207.05,243.86 L207.92,241.45 L208.80,239.02 L209.67,236.58 L210.54,234.12 L211.42,231.66 L212.29,229.18 L213.17,226.69 L214.04,224.19 L214.92,221.68 L215.79,219.15 L216.67,216.61 L217.54,214.06 L218.41,211.50 L219.29,208.93 L220.16,206.35 L221.04,203.76 L221.91,201.15 L222.79,198.54 L223.66,195.91 L224.54,193.28 L225.41,190.63 L226.29,187.97 L227.16,185.30 L228.03,182.62 L228.91,179.93 L229.78,177.23 L230.66,174.52 L231.53,171.80 L232.41,169.07 L233.28,166.33 L234.16,163.58 L235.03,160.82 L235.90,158.05 L236.78,155.27 L237.65,152.48 L238.53,149.68 L239.40,146.87 L240.28,144.05 L241.15,141.22 L242.03,138.39 L242.90,135.54 L243.78,132.68 L244.65,129.81 L245.52,126.94 L246.40,124.05 L247.27,121.15 L248.15,118.25 L249.02,115.33 L249.90,112.41 L250.77,109.48 L251.65,106.53 L252.52,103.58 L253.39,100.62 L254.27,97.65 L255.14,94.66 L256.02,91.67 L256.89,88.67 L257.77,85.66 L258.64,82.64 L259.52,79.61 L260.39,76.57 L261.27,73.52 L262.14,70.46 L263.01,67.39 L263.89,64.32 L264.76,61.23 L265.64,58.13 L266.51,55.02 L267.39,51.90 L268.26,48.77 L269.14,45.63 L270.01,42.48 L270.88,39.32 L271.76,36.15 L272.63,32.96 L273.51,29.77 L274.38,26.57 L275.26,23.35 L276.13,20.13 L277.01,16.89 L277.88,13.64 L278.76,10.38 L279.63,7.11 L280.50,3.83 L281.38,0.54 L282.25,-2.77 L283.13,-6.09 L284.00,-9.42 L284.88,-12.76 L285.75,-16.11 L286.63,-19.48 L287.50,-22.86 L288.37,-26.25 L289.25,-29.66 L290.12,-33.08 L291.00,-36.51 L291.87,-39.95 L292.75,-43.41 L293.62,-46.89 L294.50,-50.37 L295.37,-53.87 L296.25,-57.39" stroke="#000" stroke-width="1.6"/>
</g>
<line x1="69.75" y1="378.45" x2="324.44" y2="378.45" stroke="#000" stroke-width="1.45" stroke-dasharray="6.6 4.16" stroke-dashoffset="0.4"/>
<clipPath id="clip1"><rect x="407.50" y="1.40" width="254.69" height="414.80"/></clipPath>
<g clip-path="url(#clip1)" fill="none" stroke-width="1.7" stroke-linejoin="round">
<path d="M472.88,327.25 L473.61,326.29 L474.34,325.33 L475.07,324.37 L475.80,323.41 L476.53,322.45 L477.26,321.49 L477.99,320.53 L478.73,319.57 L479.46,318.62 L480.19,317.66 L480.92,316.71 L481.65,315.75 L482.38,314.80 L483.11,313.85 L483.84,312.90 L484.57,311.95 L485.30,310.99 L486.03,310.04 L486.76,309.09 L487.49,308.15 L488.22,307.20 L488.96,306.25 L489.69,305.30 L490.42,304.35 L491.15,303.41 L491.88,302.46 L492.61,301.51 L493.34,300.57 L494.07,299.62 L494.80,298.68 L495.53,297.73 L496.26,296.79 L496.99,295.85 L497.72,294.90 L498.45,293.96 L499.19,293.02 L499.92,292.08 L500.65,291.14 L501.38,290.20 L502.11,289.26 L502.84,288.32 L503.57,287.38 L504.30,286.44 L505.03,285.50 L505.76,284.56 L506.49,283.62 L507.22,282.69 L507.95,281.75 L508.68,280.82 L509.42,279.88 L510.15,278.95 L510.88,278.01 L511.61,277.08 L512.34,276.14 L513.07,275.21 L513.80,274.28 L514.53,273.35 L515.26,272.42 L515.99,271.49 L516.72,270.56 L517.45,269.63 L518.18,268.70 L518.91,267.78 L519.64,266.85 L520.38,265.93 L521.11,265.00 L521.84,264.08 L522.57,263.15 L523.30,262.23 L524.03,261.31 L524.76,260.39 L525.49,259.47 L526.22,258.55 L526.95,257.64 L527.68,256.72 L528.41,255.80 L529.14,254.89 L529.87,253.98 L530.61,253.07 L531.34,252.15 L532.07,251.24 L532.80,250.34 L533.53,249.43 L534.26,248.52 L534.99,247.62 L535.72,246.71 L536.45,245.81 L537.18,244.91 L537.91,244.01 L538.64,243.11 L539.37,242.21 L540.10,241.32 L540.84,240.42 L541.57,239.53 L542.30,238.64 L543.03,237.75 L543.76,236.86 L544.49,235.97 L545.22,235.09 L545.95,234.20 L546.68,233.32 L547.41,232.44 L548.14,231.56 L548.87,230.68 L549.60,229.81 L550.33,228.93 L551.07,228.06 L551.80,227.19 L552.53,226.32 L553.26,225.46 L553.99,224.59 L554.72,223.73 L555.45,222.87 L556.18,222.01 L556.91,221.15 L557.64,220.29 L558.37,219.44 L559.10,218.59 L559.83,217.74 L560.56,216.89 L561.29,216.04 L562.03,215.20 L562.76,214.36 L563.49,213.52 L564.22,212.68 L564.95,211.84 L565.68,211.01 L566.41,210.18 L567.14,209.35 L567.87,208.52 L568.60,207.70 L569.33,206.87 L570.06,206.05 L570.79,205.23 L571.52,204.42 L572.26,203.60 L572.99,202.79 L573.72,201.98 L574.45,201.18 L575.18,200.37 L575.91,199.57 L576.64,198.77 L577.37,197.97 L578.10,197.18 L578.83,196.38 L579.56,195.59 L580.29,194.80 L581.02,194.02 L581.75,193.23 L582.49,192.45 L583.22,191.67 L583.95,190.90 L584.68,190.12 L585.41,189.35 L586.14,188.58 L586.87,187.81 L587.60,187.05 L588.33,186.29 L589.06,185.53 L589.79,184.77 L590.52,184.02 L591.25,183.26 L591.98,182.51 L592.72,181.77 L593.45,181.02 L594.18,180.28 L594.91,179.54 L595.64,178.80 L596.37,178.06 L597.10,177.33 L597.83,176.60 L598.56,175.87 L599.29,175.15 L600.02,174.42 L600.75,173.70 L601.48,172.98 L602.21,172.27 L602.94,171.55 L603.68,170.84 L604.41,170.13 L605.14,169.43 L605.87,168.72 L606.60,168.02 L607.33,167.32 L608.06,166.62 L608.79,165.93 L609.52,165.23 L610.25,164.54 L610.98,163.85 L611.71,163.17 L612.44,162.48 L613.17,161.80 L613.91,161.12 L614.64,160.44 L615.37,159.76 L616.10,159.09 L616.83,158.42 L617.56,157.75 L618.29,157.08 L619.02,156.42 L619.75,155.75 L620.48,155.09 L621.21,154.43 L621.94,153.77 L622.67,153.11 L623.40,152.46 L624.14,151.81 L624.87,151.16 L625.60,150.51 L626.33,149.86 L627.06,149.21 L627.79,148.57 L628.52,147.93 L629.25,147.28 L629.98,146.64 L630.71,146.01 L631.44,145.37 L632.17,144.73 L632.90,144.10 L633.63,143.47 L634.37,142.84 L635.10,142.20 L635.83,141.58 L636.56,140.95 L637.29,140.32 L638.02,139.69 L638.75,139.07 L639.48,138.45 L640.21,137.82 L640.94,137.20 L641.67,136.58 L642.40,135.96 L643.13,135.34 L643.86,134.72 L644.59,134.10 L645.33,133.48 L646.06,132.86 L646.79,132.25 L647.52,131.63 L648.25,131.01 L648.98,130.40 L649.71,129.78 L650.44,129.16 L651.17,128.55 L651.90,127.93 L652.63,127.31 L653.36,126.70 L654.09,126.08 L654.82,125.46 L655.56,124.85 L656.29,124.23 L657.02,123.61 L657.75,122.99 L658.48,122.37 L659.21,121.75 L659.94,121.13 L660.67,120.51 L661.40,119.89 L662.13,119.26 L662.13,144.21 L661.40,144.71 L660.67,145.22 L659.94,145.72 L659.21,146.23 L658.48,146.74 L657.75,147.25 L657.02,147.76 L656.29,148.27 L655.56,148.78 L654.82,149.29 L654.09,149.81 L653.36,150.32 L652.63,150.84 L651.90,151.36 L651.17,151.88 L650.44,152.40 L649.71,152.92 L648.98,153.44 L648.25,153.96 L647.52,154.49 L646.79,155.01 L646.06,155.54 L645.33,156.07 L644.59,156.60 L643.86,157.13 L643.13,157.66 L642.40,158.20 L641.67,158.73 L640.94,159.27 L640.21,159.80 L639.48,160.34 L638.75,160.88 L638.02,161.42 L637.29,161.97 L636.56,162.51 L635.83,163.06 L635.10,163.60 L634.37,164.15 L633.63,164.70 L632.90,165.25 L632.17,165.81 L631.44,166.36 L630.71,166.92 L629.98,167.48 L629.25,168.03 L628.52,168.60 L627.79,169.16 L627.06,169.72 L626.33,170.29 L625.60,170.85 L624.87,171.42 L624.14,171.99 L623.40,172.56 L622.67,173.14 L621.94,173.71 L621.21,174.29 L620.48,174.87 L619.75,175.45 L619.02,176.03 L618.29,176.61 L617.56,177.20 L616.83,177.78 L616.10,178.37 L615.37,178.96 L614.64,179.55 L613.91,180.15 L613.17,180.74 L612.44,181.34 L611.71,181.94 L610.98,182.54 L610.25,183.14 L609.52,183.75 L608.79,184.35 L608.06,184.96 L607.33,185.57 L606.60,186.18 L605.87,186.79 L605.14,187.41 L604.41,188.03 L603.68,188.65 L602.94,189.27 L602.21,189.89 L601.48,190.51 L600.75,191.14 L600.02,191.77 L599.29,192.40 L598.56,193.03 L597.83,193.66 L597.10,194.30 L596.37,194.94 L595.64,195.58 L594.91,196.22 L594.18,196.86 L593.45,197.50 L592.72,198.15 L591.98,198.80 L591.25,199.45 L590.52,200.10 L589.79,200.76 L589.06,201.42 L588.33,202.07 L587.60,202.74 L586.87,203.40 L586.14,204.06 L585.41,204.73 L584.68,205.40 L583.95,206.07 L583.22,206.74 L582.49,207.41 L581.75,208.09 L581.02,208.77 L580.29,209.45 L579.56,210.13 L578.83,210.81 L578.10,211.50 L577.37,212.19 L576.64,212.88 L575.91,213.57 L575.18,214.26 L574.45,214.96 L573.72,215.65 L572.99,216.35 L572.26,217.06 L571.52,217.76 L570.79,218.46 L570.06,219.17 L569.33,219.88 L568.60,220.59 L567.87,221.30 L567.14,222.02 L566.41,222.73 L565.68,223.45 L564.95,224.17 L564.22,224.90 L563.49,225.62 L562.76,226.35 L562.03,227.07 L561.29,227.80 L560.56,228.54 L559.83,229.27 L559.10,230.01 L558.37,230.74 L557.64,231.48 L556.91,232.22 L556.18,232.97 L555.45,233.71 L554.72,234.46 L553.99,235.21 L553.26,235.96 L552.53,236.71 L551.80,237.46 L551.07,238.22 L550.33,238.97 L549.60,239.73 L548.87,240.50 L548.14,241.26 L547.41,242.02 L546.68,242.79 L545.95,243.56 L545.22,244.33 L544.49,245.10 L543.76,245.87 L543.03,246.65 L542.30,247.42 L541.57,248.20 L540.84,248.98 L540.10,249.76 L539.37,250.55 L538.64,251.33 L537.91,252.12 L537.18,252.91 L536.45,253.70 L535.72,254.49 L534.99,255.28 L534.26,256.07 L533.53,256.87 L532.80,257.67 L532.07,258.47 L531.34,259.27 L530.61,260.07 L529.87,260.88 L529.14,261.68 L528.41,262.49 L527.68,263.30 L526.95,264.11 L526.22,264.92 L525.49,265.73 L524.76,266.55 L524.03,267.36 L523.30,268.18 L522.57,269.00 L521.84,269.82 L521.11,270.64 L520.38,271.46 L519.64,272.29 L518.91,273.11 L518.18,273.94 L517.45,274.77 L516.72,275.60 L515.99,276.43 L515.26,277.26 L514.53,278.10 L513.80,278.93 L513.07,279.77 L512.34,280.61 L511.61,281.45 L510.88,282.29 L510.15,283.13 L509.42,283.97 L508.68,284.82 L507.95,285.66 L507.22,286.51 L506.49,287.36 L505.76,288.21 L505.03,289.06 L504.30,289.91 L503.57,290.76 L502.84,291.62 L502.11,292.47 L501.38,293.33 L500.65,294.19 L499.92,295.05 L499.19,295.91 L498.45,296.77 L497.72,297.63 L496.99,298.50 L496.26,299.36 L495.53,300.23 L494.80,301.10 L494.07,301.96 L493.34,302.83 L492.61,303.70 L491.88,304.58 L491.15,305.45 L490.42,306.32 L489.69,307.20 L488.96,308.08 L488.22,308.96 L487.49,309.84 L486.76,310.72 L486.03,311.60 L485.30,312.48 L484.57,313.36 L483.84,314.25 L483.11,315.14 L482.38,316.03 L481.65,316.91 L480.92,317.81 L480.19,318.70 L479.46,319.59 L478.73,320.49 L477.99,321.38 L477.26,322.28 L476.53,323.18 L475.80,324.08 L475.07,324.98 L474.34,325.88 L473.61,326.79 L472.88,327.69Z" fill="url(#dotr)" stroke="none"/>
<path d="M458.87,345.73 L459.65,345.08 L460.44,344.43 L461.22,343.77 L462.01,343.12 L462.79,342.46 L463.58,341.81 L464.36,341.15 L465.15,340.49 L465.93,339.83 L466.72,339.17 L467.50,338.51 L468.29,337.84 L469.07,337.18 L469.86,336.51 L470.64,335.85 L471.43,335.18 L472.21,334.51 L473.00,333.84 L473.78,333.17 L474.57,332.49 L475.35,331.82 L476.14,331.14 L476.92,330.47 L477.71,329.79 L478.49,329.11 L479.27,328.43 L480.06,327.74 L480.84,327.06 L481.63,326.37 L482.41,325.69 L483.20,325.00 L483.98,324.31 L484.77,323.62 L485.55,322.93 L486.34,322.23 L487.12,321.54 L487.91,320.84 L488.69,320.15 L489.48,319.45 L490.26,318.75 L491.05,318.05 L491.83,317.35 L492.62,316.64 L493.40,315.94 L494.19,315.24 L494.97,314.53 L495.76,313.82 L496.54,313.11 L497.32,312.40 L498.11,311.69 L498.89,310.98 L499.68,310.27 L500.46,309.56 L501.25,308.84 L502.03,308.13 L502.82,307.41 L503.60,306.69 L504.39,305.98 L505.17,305.26 L505.96,304.54 L506.74,303.82 L507.53,303.10 L508.31,302.37 L509.10,301.65 L509.88,300.93 L510.67,300.20 L511.45,299.48 L512.24,298.75 L513.02,298.03 L513.81,297.30 L514.59,296.58 L515.38,295.85 L516.16,295.12 L516.94,294.39 L517.73,293.67 L518.51,292.94 L519.30,292.21 L520.08,291.48 L520.87,290.75 L521.65,290.02 L522.44,289.29 L523.22,288.56 L524.01,287.83 L524.79,287.10 L525.58,286.37 L526.36,285.64 L527.15,284.90 L527.93,284.17 L528.72,283.44 L529.50,282.71 L530.29,281.98 L531.07,281.25 L531.86,280.52 L532.64,279.79 L533.43,279.06 L534.21,278.33 L535.00,277.60 L535.78,276.87 L536.56,276.13 L537.35,275.41 L538.13,274.68 L538.92,273.95 L539.70,273.22 L540.49,272.49 L541.27,271.76 L542.06,271.03 L542.84,270.31 L543.63,269.58 L544.41,268.85 L545.20,268.13 L545.98,267.40 L546.77,266.67 L547.55,265.95 L548.34,265.23 L549.12,264.50 L549.91,263.78 L550.69,263.06 L551.48,262.34 L552.26,261.61 L553.05,260.89 L553.83,260.17 L554.61,259.45 L555.40,258.74 L556.18,258.02 L556.97,257.30 L557.75,256.59 L558.54,255.87 L559.32,255.15 L560.11,254.44 L560.89,253.73 L561.68,253.02 L562.46,252.30 L563.25,251.59 L564.03,250.88 L564.82,250.17 L565.60,249.47 L566.39,248.76 L567.17,248.05 L567.96,247.35 L568.74,246.64 L569.53,245.94 L570.31,245.24 L571.10,244.54 L571.88,243.84 L572.67,243.14 L573.45,242.44 L574.23,241.74 L575.02,241.04 L575.80,240.35 L576.59,239.65 L577.37,238.96 L578.16,238.27 L578.94,237.57 L579.73,236.88 L580.51,236.19 L581.30,235.50 L582.08,234.82 L582.87,234.13 L583.65,233.45 L584.44,232.76 L585.22,232.08 L586.01,231.39 L586.79,230.71 L587.58,230.03 L588.36,229.35 L589.15,228.68 L589.93,228.00 L590.72,227.32 L591.50,226.65 L592.29,225.97 L593.07,225.30 L593.85,224.63 L594.64,223.96 L595.42,223.29 L596.21,222.62 L596.99,221.95 L597.78,221.28 L598.56,220.62 L599.35,219.95 L600.13,219.29 L600.92,218.62 L601.70,217.96 L602.49,217.30 L603.27,216.64 L604.06,215.98 L604.84,215.32 L605.63,214.66 L606.41,214.01 L607.20,213.35 L607.98,212.70 L608.77,212.04 L609.55,211.39 L610.34,210.74 L611.12,210.09 L611.90,209.44 L612.69,208.79 L613.47,208.14 L614.26,207.49 L615.04,206.84 L615.83,206.20 L616.61,205.55 L617.40,204.91 L618.18,204.26 L618.97,203.62 L619.75,202.98 L620.54,202.34 L621.32,201.69 L622.11,201.05 L622.89,200.41 L623.68,199.77 L624.46,199.14 L625.25,198.50 L626.03,197.86 L626.82,197.22 L627.60,196.59 L628.39,195.95 L629.17,195.31 L629.96,194.68 L630.74,194.05 L631.52,193.41 L632.31,192.78 L633.09,192.14 L633.88,191.51 L634.66,190.88 L635.45,190.25 L636.23,189.61 L637.02,188.98 L637.80,188.35 L638.59,187.72 L639.37,187.09 L640.16,186.46 L640.94,185.83 L641.73,185.20 L642.51,184.57 L643.30,183.94 L644.08,183.31 L644.87,182.68 L645.65,182.05 L646.44,181.42 L647.22,180.79 L648.01,180.16 L648.79,179.53 L649.58,178.90 L650.36,178.27 L651.14,177.64 L651.93,177.00 L652.71,176.37 L653.50,175.74 L654.28,175.11 L655.07,174.48 L655.85,173.85 L656.64,173.21 L657.42,172.58 L658.21,171.95 L658.99,171.31 L659.78,170.68 L660.56,170.05 L661.35,169.41 L662.13,168.77 L662.13,180.94 L661.35,181.57 L660.56,182.19 L659.78,182.81 L658.99,183.42 L658.21,184.04 L657.42,184.64 L656.64,185.25 L655.85,185.85 L655.07,186.45 L654.28,187.04 L653.50,187.64 L652.71,188.23 L651.93,188.81 L651.14,189.40 L650.36,189.98 L649.58,190.56 L648.79,191.14 L648.01,191.71 L647.22,192.29 L646.44,192.86 L645.65,193.43 L644.87,194.00 L644.08,194.57 L643.30,195.13 L642.51,195.69 L641.73,196.26 L640.94,196.82 L640.16,197.38 L639.37,197.94 L638.59,198.50 L637.80,199.06 L637.02,199.61 L636.23,200.17 L635.45,200.73 L634.66,201.28 L633.88,201.84 L633.09,202.39 L632.31,202.95 L631.52,203.50 L630.74,204.06 L629.96,204.61 L629.17,205.16 L628.39,205.72 L627.60,206.27 L626.82,206.83 L626.03,207.38 L625.25,207.94 L624.46,208.50 L623.68,209.05 L622.89,209.61 L622.11,210.17 L621.32,210.73 L620.54,211.29 L619.75,211.85 L618.97,212.41 L618.18,212.97 L617.40,213.53 L616.61,214.09 L615.83,214.66 L615.04,215.22 L614.26,215.79 L613.47,216.36 L612.69,216.93 L611.90,217.50 L611.12,218.07 L610.34,218.64 L609.55,219.22 L608.77,219.79 L607.98,220.37 L607.20,220.95 L606.41,221.53 L605.63,222.11 L604.84,222.69 L604.06,223.28 L603.27,223.86 L602.49,224.45 L601.70,225.04 L600.92,225.63 L600.13,226.22 L599.35,226.82 L598.56,227.41 L597.78,228.01 L596.99,228.61 L596.21,229.21 L595.42,229.81 L594.64,230.42 L593.85,231.02 L593.07,231.63 L592.29,232.24 L591.50,232.85 L590.72,233.46 L589.93,234.08 L589.15,234.70 L588.36,235.32 L587.58,235.94 L586.79,236.56 L586.01,237.18 L585.22,237.81 L584.44,238.44 L583.65,239.06 L582.87,239.70 L582.08,240.33 L581.30,240.96 L580.51,241.60 L579.73,242.24 L578.94,242.88 L578.16,243.52 L577.37,244.16 L576.59,244.81 L575.80,245.46 L575.02,246.11 L574.23,246.76 L573.45,247.41 L572.67,248.06 L571.88,248.72 L571.10,249.37 L570.31,250.03 L569.53,250.69 L568.74,251.35 L567.96,252.02 L567.17,252.68 L566.39,253.35 L565.60,254.02 L564.82,254.69 L564.03,255.36 L563.25,256.03 L562.46,256.70 L561.68,257.38 L560.89,258.05 L560.11,258.73 L559.32,259.41 L558.54,260.09 L557.75,260.77 L556.97,261.45 L556.18,262.14 L555.40,262.82 L554.61,263.51 L553.83,264.20 L553.05,264.88 L552.26,265.57 L551.48,266.26 L550.69,266.96 L549.91,267.65 L549.12,268.34 L548.34,269.03 L547.55,269.73 L546.77,270.42 L545.98,271.12 L545.20,271.82 L544.41,272.51 L543.63,273.21 L542.84,273.91 L542.06,274.61 L541.27,275.31 L540.49,276.01 L539.70,276.71 L538.92,277.41 L538.13,278.11 L537.35,278.82 L536.56,279.52 L535.78,280.22 L535.00,280.92 L534.21,281.63 L533.43,282.33 L532.64,283.03 L531.86,283.74 L531.07,284.44 L530.29,285.14 L529.50,285.85 L528.72,286.55 L527.93,287.25 L527.15,287.96 L526.36,288.66 L525.58,289.36 L524.79,290.07 L524.01,290.77 L523.22,291.47 L522.44,292.17 L521.65,292.87 L520.87,293.57 L520.08,294.27 L519.30,294.97 L518.51,295.67 L517.73,296.37 L516.94,297.07 L516.16,297.77 L515.38,298.46 L514.59,299.16 L513.81,299.86 L513.02,300.55 L512.24,301.24 L511.45,301.94 L510.67,302.63 L509.88,303.32 L509.10,304.01 L508.31,304.70 L507.53,305.39 L506.74,306.08 L505.96,306.76 L505.17,307.45 L504.39,308.13 L503.60,308.81 L502.82,309.50 L502.03,310.18 L501.25,310.86 L500.46,311.54 L499.68,312.21 L498.89,312.89 L498.11,313.56 L497.32,314.24 L496.54,314.91 L495.76,315.58 L494.97,316.25 L494.19,316.92 L493.40,317.59 L492.62,318.25 L491.83,318.92 L491.05,319.58 L490.26,320.24 L489.48,320.91 L488.69,321.56 L487.91,322.22 L487.12,322.88 L486.34,323.54 L485.55,324.19 L484.77,324.84 L483.98,325.49 L483.20,326.14 L482.41,326.79 L481.63,327.44 L480.84,328.09 L480.06,328.73 L479.27,329.38 L478.49,330.02 L477.71,330.66 L476.92,331.31 L476.14,331.95 L475.35,332.58 L474.57,333.22 L473.78,333.86 L473.00,334.50 L472.21,335.13 L471.43,335.77 L470.64,336.40 L469.86,337.03 L469.07,337.66 L468.29,338.30 L467.50,338.93 L466.72,339.56 L465.93,340.19 L465.15,340.82 L464.36,341.45 L463.58,342.08 L462.79,342.71 L462.01,343.34 L461.22,343.97 L460.44,344.60 L459.65,345.23 L458.87,345.86Z" fill="url(#dotb)" stroke="none"/>
<path d="M407.50,375.71 L408.48,375.04 L409.47,374.43 L410.45,373.87 L411.43,373.35 L412.42,372.86 L413.40,372.39 L414.38,371.94 L415.37,371.51 L416.35,371.09 L417.33,370.69 L418.31,370.29 L419.30,369.90 L420.28,369.51 L421.26,369.12 L422.25,368.73 L423.23,368.35 L424.21,367.95 L425.20,367.56 L426.18,367.16 L427.16,366.75 L428.15,366.33 L429.13,365.90 L430.11,365.47 L431.10,365.02 L432.08,364.56 L433.06,364.08 L434.04,363.59 L435.03,363.09 L436.01,362.57 L436.99,362.03 L437.98,361.48 L438.96,360.90 L439.94,360.31 L440.93,359.70 L441.91,359.07 L442.89,358.42 L443.88,357.75 L444.86,357.06 L445.84,356.34 L446.83,355.60 L447.81,354.85 L448.79,354.06 L449.77,353.26 L450.76,352.43 L451.74,351.57 L452.72,350.69 L453.71,349.79 L454.69,348.86 L455.67,347.91 L456.66,346.93 L457.64,345.92 L458.62,344.89 L459.61,343.83 L460.59,342.75 L461.57,341.64 L462.56,340.50 L463.54,339.34 L464.52,338.15 L465.50,336.93 L466.49,335.68 L467.47,334.41 L468.45,333.11 L469.44,331.80 L470.42,330.50 L471.40,329.20 L472.39,327.90 L473.37,326.61 L474.35,325.31 L475.34,324.02 L476.32,322.73 L477.30,321.44 L478.29,320.15 L479.27,318.86 L480.25,317.58 L481.24,316.29 L482.22,315.01 L483.20,313.73 L484.18,312.45 L485.17,311.17 L486.15,309.89 L487.13,308.61 L488.12,307.34 L489.10,306.06 L490.08,304.79 L491.07,303.51 L492.05,302.24 L493.03,300.97 L494.02,299.69 L495.00,298.42 L495.98,297.15 L496.97,295.88 L497.95,294.62 L498.93,293.35 L499.91,292.08 L500.90,290.81 L501.88,289.55 L502.86,288.28 L503.85,287.02 L504.83,285.76 L505.81,284.50 L506.80,283.23 L507.78,281.97 L508.76,280.71 L509.75,279.46 L510.73,278.20 L511.71,276.94 L512.70,275.69 L513.68,274.43 L514.66,273.18 L515.64,271.93 L516.63,270.68 L517.61,269.43 L518.59,268.18 L519.58,266.94 L520.56,265.69 L521.54,264.45 L522.53,263.21 L523.51,261.97 L524.49,260.73 L525.48,259.49 L526.46,258.25 L527.44,257.02 L528.43,255.79 L529.41,254.56 L530.39,253.33 L531.37,252.11 L532.36,250.88 L533.34,249.66 L534.32,248.44 L535.31,247.22 L536.29,246.01 L537.27,244.80 L538.26,243.59 L539.24,242.38 L540.22,241.17 L541.21,239.97 L542.19,238.77 L543.17,237.57 L544.16,236.38 L545.14,235.19 L546.12,234.00 L547.11,232.81 L548.09,231.63 L549.07,230.45 L550.05,229.27 L551.04,228.09 L552.02,226.92 L553.00,225.76 L553.99,224.59 L554.97,223.43 L555.95,222.27 L556.94,221.12 L557.92,219.97 L558.90,218.82 L559.89,217.68 L560.87,216.54 L561.85,215.40 L562.84,214.27 L563.82,213.14 L564.80,212.01 L565.78,210.89 L566.77,209.77 L567.75,208.66 L568.73,207.55 L569.72,206.44 L570.70,205.34 L571.68,204.24 L572.67,203.15 L573.65,202.06 L574.63,200.97 L575.62,199.89 L576.60,198.81 L577.58,197.74 L578.57,196.67 L579.55,195.61 L580.53,194.55 L581.51,193.49 L582.50,192.44 L583.48,191.39 L584.46,190.35 L585.45,189.31 L586.43,188.27 L587.41,187.24 L588.40,186.22 L589.38,185.20 L590.36,184.18 L591.35,183.17 L592.33,182.16 L593.31,181.16 L594.30,180.16 L595.28,179.16 L596.26,178.17 L597.24,177.19 L598.23,176.20 L599.21,175.23 L600.19,174.25 L601.18,173.28 L602.16,172.32 L603.14,171.36 L604.13,170.40 L605.11,169.45 L606.09,168.50 L607.08,167.56 L608.06,166.62 L609.04,165.69 L610.03,164.75 L611.01,163.83 L611.99,162.90 L612.98,161.99 L613.96,161.07 L614.94,160.16 L615.92,159.25 L616.91,158.35 L617.89,157.45 L618.87,156.55 L619.86,155.66 L620.84,154.77 L621.82,153.88 L622.81,153.00 L623.79,152.12 L624.77,151.24 L625.76,150.37 L626.74,149.49 L627.72,148.63 L628.71,147.76 L629.69,146.90 L630.67,146.04 L631.65,145.18 L632.64,144.33 L633.62,143.48 L634.60,142.63 L635.59,141.78 L636.57,140.94 L637.55,140.09 L638.54,139.25 L639.52,138.41 L640.50,137.57 L641.49,136.74 L642.47,135.90 L643.45,135.07 L644.44,134.24 L645.42,133.40 L646.40,132.57 L647.38,131.74 L648.37,130.91 L649.35,130.08 L650.33,129.25 L651.32,128.42 L652.30,127.60 L653.28,126.77 L654.27,125.94 L655.25,125.11 L656.23,124.27 L657.22,123.44 L658.20,122.61 L659.18,121.78 L660.17,120.94 L661.15,120.10 L662.13,119.26" stroke="#ff0000"/>
<path d="M407.50,375.71 L408.48,375.04 L409.47,374.43 L410.45,373.87 L411.43,373.35 L412.42,372.86 L413.40,372.39 L414.38,371.94 L415.37,371.51 L416.35,371.09 L417.33,370.69 L418.31,370.29 L419.30,369.90 L420.28,369.51 L421.26,369.12 L422.25,368.73 L423.23,368.35 L424.21,367.95 L425.20,367.56 L426.18,367.16 L427.16,366.75 L428.15,366.33 L429.13,365.90 L430.11,365.47 L431.10,365.02 L432.08,364.56 L433.06,364.08 L434.04,363.59 L435.03,363.09 L436.01,362.57 L436.99,362.03 L437.98,361.48 L438.96,360.90 L439.94,360.31 L440.93,359.70 L441.91,359.07 L442.89,358.42 L443.88,357.75 L444.86,357.06 L445.84,356.34 L446.83,355.60 L447.81,354.85 L448.79,354.06 L449.77,353.26 L450.76,352.43 L451.74,351.57 L452.72,350.69 L453.71,349.79 L454.69,348.86 L455.67,347.91 L456.66,346.93 L457.64,345.92 L458.62,344.89 L459.61,343.83 L460.59,342.75 L461.57,341.64 L462.56,340.50 L463.54,339.34 L464.52,338.15 L465.50,336.93 L466.49,335.69 L467.47,334.45 L468.45,333.21 L469.44,331.98 L470.42,330.75 L471.40,329.53 L472.39,328.31 L473.37,327.09 L474.35,325.87 L475.34,324.65 L476.32,323.44 L477.30,322.23 L478.29,321.02 L479.27,319.82 L480.25,318.62 L481.24,317.42 L482.22,316.22 L483.20,315.03 L484.18,313.83 L485.17,312.64 L486.15,311.46 L487.13,310.27 L488.12,309.09 L489.10,307.90 L490.08,306.72 L491.07,305.55 L492.05,304.37 L493.03,303.20 L494.02,302.03 L495.00,300.86 L495.98,299.69 L496.97,298.53 L497.95,297.37 L498.93,296.21 L499.91,295.05 L500.90,293.89 L501.88,292.74 L502.86,291.59 L503.85,290.44 L504.83,289.29 L505.81,288.15 L506.80,287.01 L507.78,285.87 L508.76,284.73 L509.75,283.59 L510.73,282.46 L511.71,281.33 L512.70,280.20 L513.68,279.07 L514.66,277.95 L515.64,276.83 L516.63,275.71 L517.61,274.59 L518.59,273.48 L519.58,272.36 L520.56,271.26 L521.54,270.15 L522.53,269.04 L523.51,267.94 L524.49,266.84 L525.48,265.75 L526.46,264.65 L527.44,263.56 L528.43,262.47 L529.41,261.39 L530.39,260.31 L531.37,259.23 L532.36,258.15 L533.34,257.07 L534.32,256.00 L535.31,254.93 L536.29,253.87 L537.27,252.81 L538.26,251.75 L539.24,250.69 L540.22,249.64 L541.21,248.58 L542.19,247.54 L543.17,246.49 L544.16,245.45 L545.14,244.41 L546.12,243.38 L547.11,242.34 L548.09,241.31 L549.07,240.29 L550.05,239.27 L551.04,238.25 L552.02,237.23 L553.00,236.22 L553.99,235.21 L554.97,234.20 L555.95,233.20 L556.94,232.20 L557.92,231.20 L558.90,230.21 L559.89,229.22 L560.87,228.23 L561.85,227.25 L562.84,226.27 L563.82,225.29 L564.80,224.32 L565.78,223.35 L566.77,222.38 L567.75,221.42 L568.73,220.46 L569.72,219.51 L570.70,218.55 L571.68,217.61 L572.67,216.66 L573.65,215.72 L574.63,214.78 L575.62,213.85 L576.60,212.91 L577.58,211.99 L578.57,211.06 L579.55,210.14 L580.53,209.23 L581.51,208.31 L582.50,207.40 L583.48,206.50 L584.46,205.59 L585.45,204.69 L586.43,203.80 L587.41,202.90 L588.40,202.02 L589.38,201.13 L590.36,200.25 L591.35,199.37 L592.33,198.49 L593.31,197.62 L594.30,196.75 L595.28,195.89 L596.26,195.03 L597.24,194.17 L598.23,193.32 L599.21,192.47 L600.19,191.62 L601.18,190.77 L602.16,189.93 L603.14,189.10 L604.13,188.26 L605.11,187.43 L606.09,186.61 L607.08,185.78 L608.06,184.96 L609.04,184.14 L610.03,183.33 L611.01,182.52 L611.99,181.71 L612.98,180.91 L613.96,180.10 L614.94,179.31 L615.92,178.51 L616.91,177.72 L617.89,176.93 L618.87,176.15 L619.86,175.36 L620.84,174.58 L621.82,173.81 L622.81,173.03 L623.79,172.26 L624.77,171.49 L625.76,170.73 L626.74,169.97 L627.72,169.21 L628.71,168.45 L629.69,167.70 L630.67,166.95 L631.65,166.20 L632.64,165.46 L633.62,164.71 L634.60,163.97 L635.59,163.24 L636.57,162.50 L637.55,161.77 L638.54,161.04 L639.52,160.31 L640.50,159.59 L641.49,158.87 L642.47,158.15 L643.45,157.43 L644.44,156.71 L645.42,156.00 L646.40,155.29 L647.38,154.58 L648.37,153.88 L649.35,153.17 L650.33,152.47 L651.32,151.77 L652.30,151.08 L653.28,150.38 L654.27,149.69 L655.25,149.00 L656.23,148.31 L657.22,147.62 L658.20,146.93 L659.18,146.25 L660.17,145.57 L661.15,144.89 L662.13,144.21" stroke="#ff0000" stroke-dasharray="9.5 4.5"/>
<path d="M407.50,375.71 L408.48,375.04 L409.47,374.43 L410.45,373.87 L411.43,373.35 L412.42,372.86 L413.40,372.39 L414.38,371.94 L415.37,371.51 L416.35,371.09 L417.33,370.69 L418.31,370.29 L419.30,369.90 L420.28,369.51 L421.26,369.12 L422.25,368.73 L423.23,368.35 L424.21,367.95 L425.20,367.56 L426.18,367.16 L427.16,366.75 L428.15,366.33 L429.13,365.90 L430.11,365.47 L431.10,365.02 L432.08,364.56 L433.06,364.08 L434.04,363.59 L435.03,363.09 L436.01,362.57 L436.99,362.03 L437.98,361.48 L438.96,360.90 L439.94,360.31 L440.93,359.70 L441.91,359.07 L442.89,358.42 L443.88,357.75 L444.86,357.06 L445.84,356.34 L446.83,355.60 L447.81,354.85 L448.79,354.06 L449.77,353.26 L450.76,352.44 L451.74,351.63 L452.72,350.82 L453.71,350.01 L454.69,349.20 L455.67,348.38 L456.66,347.57 L457.64,346.75 L458.62,345.94 L459.61,345.12 L460.59,344.30 L461.57,343.48 L462.56,342.66 L463.54,341.84 L464.52,341.02 L465.50,340.19 L466.49,339.36 L467.47,338.53 L468.45,337.70 L469.44,336.87 L470.42,336.04 L471.40,335.20 L472.39,334.36 L473.37,333.52 L474.35,332.68 L475.34,331.83 L476.32,330.98 L477.30,330.14 L478.29,329.28 L479.27,328.43 L480.25,327.58 L481.24,326.72 L482.22,325.86 L483.20,325.00 L484.18,324.13 L485.17,323.27 L486.15,322.40 L487.13,321.53 L488.12,320.66 L489.10,319.78 L490.08,318.91 L491.07,318.03 L492.05,317.15 L493.03,316.27 L494.02,315.39 L495.00,314.50 L495.98,313.62 L496.97,312.73 L497.95,311.84 L498.93,310.95 L499.91,310.06 L500.90,309.16 L501.88,308.27 L502.86,307.37 L503.85,306.47 L504.83,305.57 L505.81,304.67 L506.80,303.77 L507.78,302.86 L508.76,301.96 L509.75,301.05 L510.73,300.15 L511.71,299.24 L512.70,298.33 L513.68,297.42 L514.66,296.51 L515.64,295.60 L516.63,294.69 L517.61,293.78 L518.59,292.86 L519.58,291.95 L520.56,291.04 L521.54,290.12 L522.53,289.21 L523.51,288.29 L524.49,287.38 L525.48,286.46 L526.46,285.55 L527.44,284.63 L528.43,283.71 L529.41,282.80 L530.39,281.88 L531.37,280.97 L532.36,280.05 L533.34,279.13 L534.32,278.22 L535.31,277.30 L536.29,276.39 L537.27,275.48 L538.26,274.56 L539.24,273.65 L540.22,272.74 L541.21,271.82 L542.19,270.91 L543.17,270.00 L544.16,269.09 L545.14,268.18 L546.12,267.27 L547.11,266.36 L548.09,265.45 L549.07,264.55 L550.05,263.64 L551.04,262.74 L552.02,261.83 L553.00,260.93 L553.99,260.03 L554.97,259.13 L555.95,258.23 L556.94,257.33 L557.92,256.43 L558.90,255.54 L559.89,254.64 L560.87,253.75 L561.85,252.86 L562.84,251.97 L563.82,251.08 L564.80,250.19 L565.78,249.30 L566.77,248.42 L567.75,247.53 L568.73,246.65 L569.72,245.77 L570.70,244.89 L571.68,244.01 L572.67,243.13 L573.65,242.26 L574.63,241.39 L575.62,240.51 L576.60,239.64 L577.58,238.77 L578.57,237.91 L579.55,237.04 L580.53,236.18 L581.51,235.31 L582.50,234.45 L583.48,233.59 L584.46,232.74 L585.45,231.88 L586.43,231.03 L587.41,230.17 L588.40,229.32 L589.38,228.47 L590.36,227.63 L591.35,226.78 L592.33,225.93 L593.31,225.09 L594.30,224.25 L595.28,223.41 L596.26,222.57 L597.24,221.73 L598.23,220.90 L599.21,220.07 L600.19,219.23 L601.18,218.40 L602.16,217.57 L603.14,216.75 L604.13,215.92 L605.11,215.10 L606.09,214.27 L607.08,213.45 L608.06,212.63 L609.04,211.81 L610.03,211.00 L611.01,210.18 L611.99,209.37 L612.98,208.55 L613.96,207.74 L614.94,206.93 L615.92,206.12 L616.91,205.31 L617.89,204.50 L618.87,203.70 L619.86,202.89 L620.84,202.09 L621.82,201.29 L622.81,200.48 L623.79,199.68 L624.77,198.88 L625.76,198.08 L626.74,197.29 L627.72,196.49 L628.71,195.69 L629.69,194.90 L630.67,194.10 L631.65,193.31 L632.64,192.51 L633.62,191.72 L634.60,190.93 L635.59,190.14 L636.57,189.34 L637.55,188.55 L638.54,187.76 L639.52,186.97 L640.50,186.18 L641.49,185.39 L642.47,184.60 L643.45,183.81 L644.44,183.02 L645.42,182.23 L646.40,181.44 L647.38,180.66 L648.37,179.87 L649.35,179.08 L650.33,178.29 L651.32,177.50 L652.30,176.71 L653.28,175.92 L654.27,175.12 L655.25,174.33 L656.23,173.54 L657.22,172.75 L658.20,171.95 L659.18,171.16 L660.17,170.37 L661.15,169.57 L662.13,168.77" stroke="#0000ff"/>
<path d="M407.50,375.71 L408.48,375.04 L409.47,374.43 L410.45,373.87 L411.43,373.35 L412.42,372.86 L413.40,372.39 L414.38,371.94 L415.37,371.51 L416.35,371.09 L417.33,370.69 L418.31,370.29 L419.30,369.90 L420.28,369.51 L421.26,369.12 L422.25,368.73 L423.23,368.35 L424.21,367.95 L425.20,367.56 L426.18,367.16 L427.16,366.75 L428.15,366.33 L429.13,365.90 L430.11,365.47 L431.10,365.02 L432.08,364.56 L433.06,364.08 L434.04,363.59 L435.03,363.09 L436.01,362.57 L436.99,362.03 L437.98,361.48 L438.96,360.90 L439.94,360.31 L440.93,359.70 L441.91,359.07 L442.89,358.42 L443.88,357.75 L444.86,357.06 L445.84,356.34 L446.83,355.60 L447.81,354.85 L448.79,354.06 L449.77,353.26 L450.76,352.45 L451.74,351.64 L452.72,350.84 L453.71,350.04 L454.69,349.24 L455.67,348.44 L456.66,347.65 L457.64,346.85 L458.62,346.06 L459.61,345.27 L460.59,344.48 L461.57,343.69 L462.56,342.90 L463.54,342.11 L464.52,341.32 L465.50,340.53 L466.49,339.74 L467.47,338.95 L468.45,338.16 L469.44,337.37 L470.42,336.58 L471.40,335.78 L472.39,334.99 L473.37,334.19 L474.35,333.39 L475.34,332.60 L476.32,331.80 L477.30,330.99 L478.29,330.19 L479.27,329.38 L480.25,328.58 L481.24,327.77 L482.22,326.96 L483.20,326.14 L484.18,325.33 L485.17,324.51 L486.15,323.69 L487.13,322.87 L488.12,322.05 L489.10,321.22 L490.08,320.40 L491.07,319.57 L492.05,318.73 L493.03,317.90 L494.02,317.07 L495.00,316.23 L495.98,315.39 L496.97,314.55 L497.95,313.70 L498.93,312.86 L499.91,312.01 L500.90,311.16 L501.88,310.31 L502.86,309.46 L503.85,308.60 L504.83,307.75 L505.81,306.89 L506.80,306.03 L507.78,305.17 L508.76,304.30 L509.75,303.44 L510.73,302.57 L511.71,301.71 L512.70,300.84 L513.68,299.97 L514.66,299.10 L515.64,298.22 L516.63,297.35 L517.61,296.48 L518.59,295.60 L519.58,294.73 L520.56,293.85 L521.54,292.97 L522.53,292.09 L523.51,291.21 L524.49,290.33 L525.48,289.45 L526.46,288.57 L527.44,287.69 L528.43,286.81 L529.41,285.93 L530.39,285.05 L531.37,284.17 L532.36,283.29 L533.34,282.41 L534.32,281.53 L535.31,280.64 L536.29,279.76 L537.27,278.88 L538.26,278.00 L539.24,277.13 L540.22,276.25 L541.21,275.37 L542.19,274.49 L543.17,273.62 L544.16,272.74 L545.14,271.87 L546.12,271.00 L547.11,270.12 L548.09,269.25 L549.07,268.38 L550.05,267.52 L551.04,266.65 L552.02,265.78 L553.00,264.92 L553.99,264.06 L554.97,263.20 L555.95,262.34 L556.94,261.48 L557.92,260.63 L558.90,259.78 L559.89,258.92 L560.87,258.08 L561.85,257.23 L562.84,256.38 L563.82,255.54 L564.80,254.70 L565.78,253.86 L566.77,253.03 L567.75,252.19 L568.73,251.36 L569.72,250.53 L570.70,249.71 L571.68,248.88 L572.67,248.06 L573.65,247.24 L574.63,246.43 L575.62,245.61 L576.60,244.80 L577.58,243.99 L578.57,243.19 L579.55,242.39 L580.53,241.59 L581.51,240.79 L582.50,239.99 L583.48,239.20 L584.46,238.41 L585.45,237.63 L586.43,236.84 L587.41,236.06 L588.40,235.29 L589.38,234.51 L590.36,233.74 L591.35,232.97 L592.33,232.21 L593.31,231.44 L594.30,230.68 L595.28,229.92 L596.26,229.17 L597.24,228.42 L598.23,227.67 L599.21,226.92 L600.19,226.18 L601.18,225.43 L602.16,224.70 L603.14,223.96 L604.13,223.22 L605.11,222.49 L606.09,221.76 L607.08,221.04 L608.06,220.31 L609.04,219.59 L610.03,218.87 L611.01,218.15 L611.99,217.44 L612.98,216.72 L613.96,216.01 L614.94,215.30 L615.92,214.59 L616.91,213.88 L617.89,213.18 L618.87,212.47 L619.86,211.77 L620.84,211.07 L621.82,210.37 L622.81,209.67 L623.79,208.97 L624.77,208.28 L625.76,207.58 L626.74,206.88 L627.72,206.19 L628.71,205.49 L629.69,204.80 L630.67,204.10 L631.65,203.41 L632.64,202.71 L633.62,202.02 L634.60,201.32 L635.59,200.63 L636.57,199.93 L637.55,199.23 L638.54,198.53 L639.52,197.83 L640.50,197.13 L641.49,196.43 L642.47,195.73 L643.45,195.02 L644.44,194.31 L645.42,193.60 L646.40,192.88 L647.38,192.17 L648.37,191.45 L649.35,190.73 L650.33,190.00 L651.32,189.27 L652.30,188.54 L653.28,187.80 L654.27,187.06 L655.25,186.31 L656.23,185.56 L657.22,184.80 L658.20,184.04 L659.18,183.28 L660.17,182.50 L661.15,181.73 L662.13,180.94" stroke="#0000ff" stroke-dasharray="9.5 4.5"/>
<path d="M407.50,375.71 L408.37,375.11 L409.25,374.56 L410.12,374.05 L411.00,373.58 L411.87,373.13 L412.75,372.70 L413.62,372.29 L414.50,371.89 L415.37,371.51 L416.24,371.14 L417.12,370.77 L417.99,370.42 L418.87,370.07 L419.74,369.72 L420.62,369.37 L421.49,369.03 L422.37,368.69 L423.24,368.34 L424.12,367.99 L424.99,367.64 L425.86,367.29 L426.74,366.93 L427.61,366.56 L428.49,366.18 L429.36,365.80 L430.24,365.41 L431.11,365.01 L431.99,364.60 L432.86,364.18 L433.73,363.75 L434.61,363.30 L435.48,362.85 L436.36,362.38 L437.23,361.90 L438.11,361.40 L438.98,360.89 L439.86,360.37 L440.73,359.83 L441.61,359.27 L442.48,358.70 L443.35,358.11 L444.23,357.50 L445.10,356.88 L445.98,356.24 L446.85,355.58 L447.73,354.91 L448.60,354.22 L449.48,353.50 L450.35,352.77 L451.22,352.02 L452.10,351.25 L452.97,350.47 L453.85,349.66 L454.72,348.83 L455.60,347.98 L456.47,347.11 L457.35,346.22 L458.22,345.32 L459.10,344.39 L459.97,343.43 L460.84,342.46 L461.72,341.47 L462.59,340.46 L463.47,339.42 L464.34,338.37 L465.22,337.29 L466.09,336.19 L466.97,335.07 L467.84,333.92 L468.71,332.76 L469.59,331.57 L470.46,330.37 L471.34,329.14 L472.21,327.88 L473.09,326.61 L473.96,325.31 L474.84,324.00 L475.71,322.66 L476.59,321.30 L477.46,319.91 L478.33,318.51 L479.21,317.08 L480.08,315.63 L480.96,314.16 L481.83,312.67 L482.71,311.15 L483.58,309.62 L484.46,308.06 L485.33,306.48 L486.20,304.88 L487.08,303.25 L487.95,301.61 L488.83,299.94 L489.70,298.26 L490.58,296.55 L491.45,294.82 L492.33,293.07 L493.20,291.30 L494.08,289.50 L494.95,287.69 L495.82,285.86 L496.70,284.00 L497.57,282.13 L498.45,280.23 L499.32,278.32 L500.20,276.38 L501.07,274.43 L501.95,272.45 L502.82,270.46 L503.69,268.44 L504.57,266.41 L505.44,264.35 L506.32,262.28 L507.19,260.19 L508.07,258.08 L508.94,255.95 L509.82,253.80 L510.69,251.64 L511.57,249.45 L512.44,247.25 L513.31,245.03 L514.19,242.79 L515.06,240.54 L515.94,238.27 L516.81,235.98 L517.69,233.67 L518.56,231.35 L519.44,229.01 L520.31,226.65 L521.18,224.28 L522.06,221.89 L522.93,219.48 L523.81,217.06 L524.68,214.63 L525.56,212.18 L526.43,209.71 L527.31,207.23 L528.18,204.74 L529.06,202.23 L529.93,199.71 L530.80,197.17 L531.68,194.62 L532.55,192.05 L533.43,189.48 L534.30,186.89 L535.18,184.28 L536.05,181.67 L536.93,179.04 L537.80,176.40 L538.67,173.75 L539.55,171.09 L540.42,168.41 L541.30,165.73 L542.17,163.03 L543.05,160.33 L543.92,157.61 L544.80,154.88 L545.67,152.15 L546.55,149.40 L547.42,146.65 L548.29,143.88 L549.17,141.11 L550.04,138.33 L550.92,135.54 L551.79,132.74 L552.67,129.94 L553.54,127.13 L554.42,124.31 L555.29,121.48 L556.16,118.65 L557.04,115.81 L557.91,112.97 L558.79,110.12 L559.66,107.26 L560.54,104.40 L561.41,101.54 L562.29,98.67 L563.16,95.80 L564.04,92.92 L564.91,90.04 L565.78,87.15 L566.66,84.27 L567.53,81.38 L568.41,78.49 L569.28,75.59 L570.16,72.70 L571.03,69.80 L571.91,66.90 L572.78,64.00 L573.65,61.10 L574.53,58.20 L575.40,55.30 L576.28,52.40 L577.15,49.50 L578.03,46.61 L578.90,43.71 L579.78,40.82 L580.65,37.92 L581.53,35.03 L582.40,32.15 L583.27,29.26 L584.15,26.38 L585.02,23.51 L585.90,20.63 L586.77,17.76 L587.65,14.90 L588.52,12.04 L589.40,9.19 L590.27,6.34 L591.14,3.50 L592.02,0.66 L592.89,-2.16 L593.77,-4.99 L594.64,-7.80 L595.52,-10.61 L596.39,-13.40 L597.27,-16.19 L598.14,-18.97 L599.02,-21.75 L599.89,-24.51 L600.76,-27.26 L601.64,-30.00 L602.51,-32.73 L603.39,-35.45 L604.26,-38.16 L605.14,-40.86 L606.01,-43.54 L606.89,-46.22 L607.76,-48.88 L608.63,-51.52 L609.51,-54.16 L610.38,-56.78 L611.26,-59.38 L612.13,-61.97 L613.01,-64.55 L613.88,-67.11 L614.76,-69.65 L615.63,-72.18 L616.51,-74.70 L617.38,-77.19 L618.25,-79.67 L619.13,-82.13 L620.00,-84.57 L620.88,-87.00 L621.75,-89.40 L622.63,-91.79 L623.50,-94.16 L624.38,-96.50 L625.25,-98.83 L626.12,-101.14 L627.00,-103.42 L627.87,-105.69 L628.75,-107.93 L629.62,-110.15 L630.50,-112.35 L631.37,-114.52 L632.25,-116.68 L633.12,-118.80 L634.00,-120.91" stroke="#000" stroke-width="1.6"/>
</g>
<line x1="407.50" y1="378.45" x2="662.19" y2="378.45" stroke="#000" stroke-width="1.45" stroke-dasharray="6.6 4.16" stroke-dashoffset="0.4"/>
<path d="M69.75,416.20v-18.0 M69.75,1.40v18.0 M93.11,416.20v-9.2 M93.11,1.40v9.2 M116.46,416.20v-18.0 M116.46,1.40v18.0 M139.81,416.20v-9.2 M139.81,1.40v9.2 M163.17,416.20v-18.0 M163.17,1.40v18.0 M186.53,416.20v-9.2 M186.53,1.40v9.2 M209.88,416.20v-18.0 M209.88,1.40v18.0 M233.23,416.20v-9.2 M233.23,1.40v9.2 M256.59,416.20v-18.0 M256.59,1.40v18.0 M279.95,416.20v-9.2 M279.95,1.40v9.2 M303.30,416.20v-18.0 M303.30,1.40v18.0 M69.75,403.59h9.2 M324.44,403.59h-9.2 M69.75,378.45h18.0 M324.44,378.45h-18.0 M69.75,353.31h9.2 M324.44,353.31h-9.2 M69.75,328.16h18.0 M324.44,328.16h-18.0 M69.75,303.02h9.2 M324.44,303.02h-9.2 M69.75,277.87h18.0 M324.44,277.87h-18.0 M69.75,252.73h9.2 M324.44,252.73h-9.2 M69.75,227.59h18.0 M324.44,227.59h-18.0 M69.75,202.44h9.2 M324.44,202.44h-9.2 M69.75,177.30h18.0 M324.44,177.30h-18.0 M69.75,152.15h9.2 M324.44,152.15h-9.2 M69.75,127.01h18.0 M324.44,127.01h-18.0 M69.75,101.87h9.2 M324.44,101.87h-9.2 M69.75,76.72h18.0 M324.44,76.72h-18.0 M69.75,51.58h9.2 M324.44,51.58h-9.2 M69.75,26.43h18.0 M324.44,26.43h-18.0" stroke="#000" stroke-width="1.5" fill="none"/>
<rect x="69.75" y="1.40" width="254.69" height="414.80" fill="none" stroke="#000" stroke-width="1.5"/>
<text x="64.25" y="386.85" text-anchor="end" class="tk">0</text>
<text x="64.25" y="336.56" text-anchor="end" class="tk">40</text>
<text x="64.25" y="286.27" text-anchor="end" class="tk">80</text>
<text x="64.25" y="235.99" text-anchor="end" class="tk">120</text>
<text x="64.25" y="185.70" text-anchor="end" class="tk">160</text>
<text x="64.25" y="135.41" text-anchor="end" class="tk">200</text>
<text x="64.25" y="85.12" text-anchor="end" class="tk">240</text>
<text x="64.25" y="34.83" text-anchor="end" class="tk">280</text>
<text transform="translate(69.75,438.1) scale(1.04,1)" text-anchor="middle" class="tx">0</text>
<text transform="translate(116.46,438.1) scale(1.04,1)" text-anchor="middle" class="tx">0.2</text>
<text transform="translate(163.17,438.1) scale(1.04,1)" text-anchor="middle" class="tx">0.4</text>
<text transform="translate(209.88,438.1) scale(1.04,1)" text-anchor="middle" class="tx">0.6</text>
<text transform="translate(256.59,438.1) scale(1.04,1)" text-anchor="middle" class="tx">0.8</text>
<text transform="translate(303.30,438.1) scale(1.04,1)" text-anchor="middle" class="tx">1</text>
<text x="197.69" y="469.5" text-anchor="middle" class="lb">n<tspan dy="8" dx="-0.6" font-size="16">B</tspan><tspan dy="-8"> [fm</tspan><tspan dy="-13.5" font-size="15">-3</tspan><tspan dy="13.5">]</tspan></text>
<text transform="translate(16.95,205.5) rotate(-90)" text-anchor="middle" class="lb">E/A [MeV]</text>
<path d="M407.50,416.20v-18.0 M407.50,1.40v18.0 M430.86,416.20v-9.2 M430.86,1.40v9.2 M454.21,416.20v-18.0 M454.21,1.40v18.0 M477.56,416.20v-9.2 M477.56,1.40v9.2 M500.92,416.20v-18.0 M500.92,1.40v18.0 M524.27,416.20v-9.2 M524.27,1.40v9.2 M547.63,416.20v-18.0 M547.63,1.40v18.0 M570.99,416.20v-9.2 M570.99,1.40v9.2 M594.34,416.20v-18.0 M594.34,1.40v18.0 M617.70,416.20v-9.2 M617.70,1.40v9.2 M641.05,416.20v-18.0 M641.05,1.40v18.0 M407.50,403.59h9.2 M662.19,403.59h-9.2 M407.50,378.45h18.0 M662.19,378.45h-18.0 M407.50,353.31h9.2 M662.19,353.31h-9.2 M407.50,328.16h18.0 M662.19,328.16h-18.0 M407.50,303.02h9.2 M662.19,303.02h-9.2 M407.50,277.87h18.0 M662.19,277.87h-18.0 M407.50,252.73h9.2 M662.19,252.73h-9.2 M407.50,227.59h18.0 M662.19,227.59h-18.0 M407.50,202.44h9.2 M662.19,202.44h-9.2 M407.50,177.30h18.0 M662.19,177.30h-18.0 M407.50,152.15h9.2 M662.19,152.15h-9.2 M407.50,127.01h18.0 M662.19,127.01h-18.0 M407.50,101.87h9.2 M662.19,101.87h-9.2 M407.50,76.72h18.0 M662.19,76.72h-18.0 M407.50,51.58h9.2 M662.19,51.58h-9.2 M407.50,26.43h18.0 M662.19,26.43h-18.0" stroke="#000" stroke-width="1.5" fill="none"/>
<rect x="407.50" y="1.40" width="254.69" height="414.80" fill="none" stroke="#000" stroke-width="1.5"/>
<text x="402.00" y="386.85" text-anchor="end" class="tk">0</text>
<text x="402.00" y="336.56" text-anchor="end" class="tk">40</text>
<text x="402.00" y="286.27" text-anchor="end" class="tk">80</text>
<text x="402.00" y="235.99" text-anchor="end" class="tk">120</text>
<text x="402.00" y="185.70" text-anchor="end" class="tk">160</text>
<text x="402.00" y="135.41" text-anchor="end" class="tk">200</text>
<text x="402.00" y="85.12" text-anchor="end" class="tk">240</text>
<text x="402.00" y="34.83" text-anchor="end" class="tk">280</text>
<text transform="translate(407.50,438.1) scale(1.04,1)" text-anchor="middle" class="tx">0</text>
<text transform="translate(454.21,438.1) scale(1.04,1)" text-anchor="middle" class="tx">0.2</text>
<text transform="translate(500.92,438.1) scale(1.04,1)" text-anchor="middle" class="tx">0.4</text>
<text transform="translate(547.63,438.1) scale(1.04,1)" text-anchor="middle" class="tx">0.6</text>
<text transform="translate(594.34,438.1) scale(1.04,1)" text-anchor="middle" class="tx">0.8</text>
<text transform="translate(641.05,438.1) scale(1.04,1)" text-anchor="middle" class="tx">1</text>
<text x="535.24" y="469.5" text-anchor="middle" class="lb">n<tspan dy="8" dx="-0.6" font-size="16">B</tspan><tspan dy="-8"> [fm</tspan><tspan dy="-13.5" font-size="15">-3</tspan><tspan dy="13.5">]</tspan></text>
<text transform="translate(357.70,208.0) rotate(-90)" text-anchor="middle" class="lb">E/A [MeV]</text>
<rect x="75.5" y="7.5" width="216.0" height="128.0" fill="#fff" stroke="#000" stroke-width="1"/>
<line x1="82" y1="21.25" x2="105.8" y2="21.25" stroke="#000" stroke-width="1.1"/>
<text transform="translate(118,28.30) scale(1.04,1)" class="lg">D1</text>
<line x1="82" y1="44.80" x2="105.8" y2="44.80" stroke="#ff0000" stroke-width="1.65"/>
<text transform="translate(118,51.20) scale(1.04,1)" class="lg">D2, Λ = 500 MeV</text>
<line x1="82" y1="70.10" x2="105.8" y2="70.10" stroke="#ff0000" stroke-width="1.65" stroke-dasharray="9.1 4.6"/>
<text transform="translate(118,76.60) scale(1.04,1)" class="lg">D2, Λ = 400 MeV</text>
<line x1="82" y1="95.30" x2="105.8" y2="95.30" stroke="#0000ff" stroke-width="1.65"/>
<text transform="translate(118,101.80) scale(1.04,1)" class="lg">D3, Λ = 700 MeV</text>
<line x1="82" y1="120.50" x2="105.8" y2="120.50" stroke="#0000ff" stroke-width="1.65" stroke-dasharray="9.1 4.6"/>
<text transform="translate(118,127.00) scale(1.04,1)" class="lg">D3, Λ = 600 MeV</text>
<text x="277.0" y="357.0" class="lb">a)</text>
<text x="614.5" y="357.5" class="lb">b)</text>
</svg>
</body></html>
